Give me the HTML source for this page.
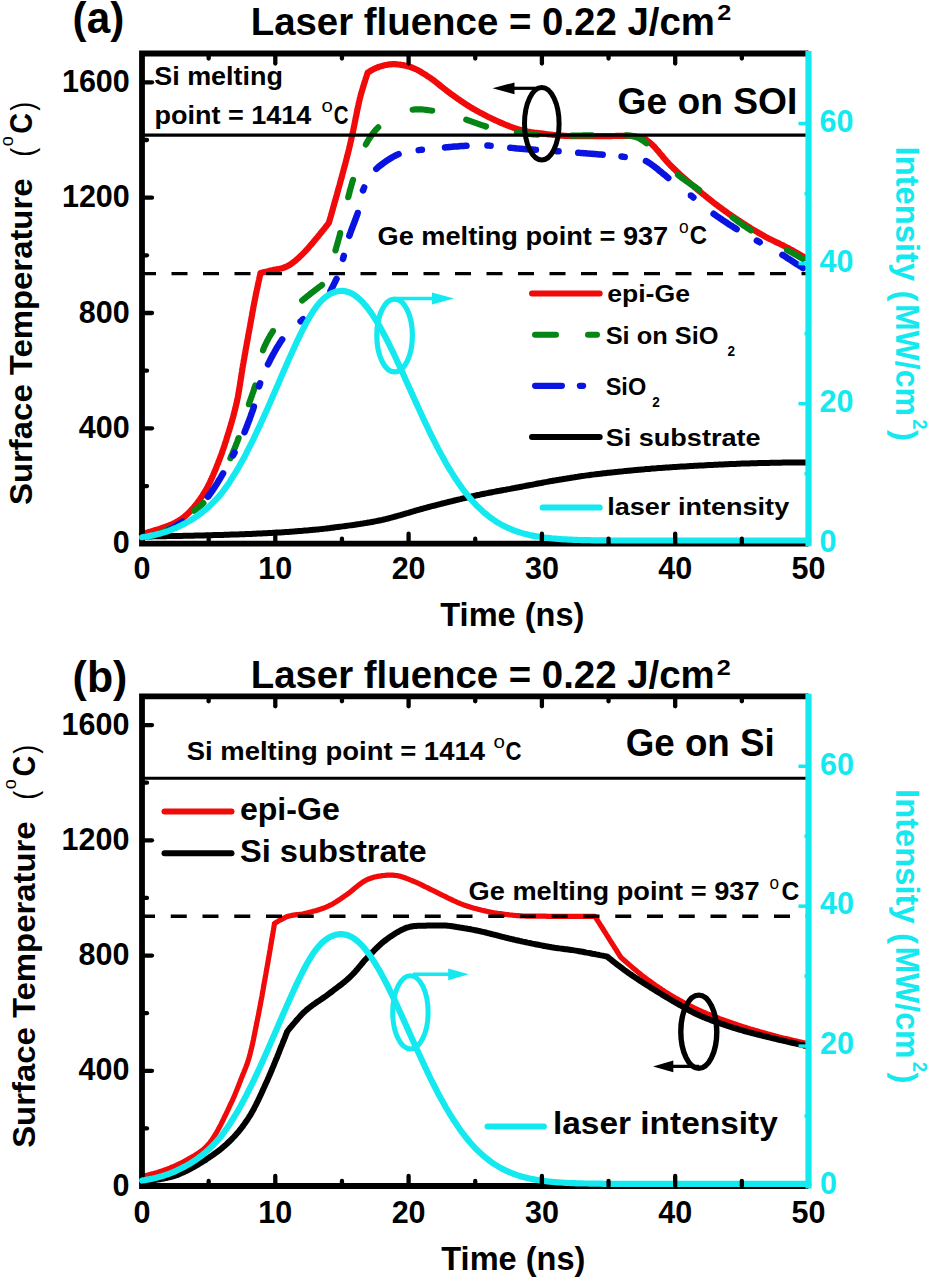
<!DOCTYPE html><html><head><meta charset="utf-8"><style>html,body{margin:0;padding:0;background:#fff;width:931px;height:1280px;overflow:hidden}svg{display:block}text{font-family:"Liberation Sans",sans-serif}</style></head><body>
<svg width="931" height="1280" viewBox="0 0 931 1280">
<rect width="931" height="1280" fill="#fff"/>
<path d="M142.0 534.0 L142.2 533.9 L142.7 533.8 L143.6 533.6 L144.7 533.3 L146.0 532.9 L147.5 532.5 L149.2 532.0 L151.0 531.5 L152.9 530.9 L154.8 530.3 L156.7 529.7 L158.6 529.2 L160.4 528.6 L162.1 528.0 L163.6 527.5 L165.0 527.0 L166.6 526.4 L168.1 525.8 L169.6 525.2 L171.0 524.6 L172.4 524.0 L173.8 523.3 L175.1 522.7 L176.4 522.0 L177.7 521.3 L179.0 520.5 L180.3 519.6 L181.6 518.8 L182.8 517.9 L184.0 517.0 L185.2 516.0 L186.4 515.0 L187.6 513.9 L188.8 512.7 L190.0 511.5 L190.9 510.5 L191.9 509.5 L192.8 508.4 L193.8 507.3 L194.8 506.1 L195.7 504.9 L196.7 503.7 L197.7 502.4 L198.6 501.1 L199.6 499.8 L200.5 498.5 L201.4 497.1 L202.4 495.7 L203.3 494.3 L204.1 492.9 L205.0 491.5 L205.7 490.3 L206.4 489.0 L207.2 487.7 L207.9 486.4 L208.5 485.0 L209.2 483.7 L209.9 482.3 L210.5 480.9 L211.2 479.5 L211.8 478.1 L212.5 476.6 L213.1 475.2 L213.7 473.7 L214.3 472.3 L215.0 470.8 L215.6 469.3 L216.2 467.9 L216.7 466.4 L217.3 464.9 L217.9 463.5 L218.5 462.0 L219.0 460.6 L219.6 459.2 L220.1 457.8 L220.6 456.4 L221.2 454.9 L221.7 453.5 L222.2 452.1 L222.7 450.6 L223.2 449.2 L223.7 447.7 L224.2 446.2 L224.7 444.8 L225.1 443.3 L225.6 441.9 L226.1 440.4 L226.5 438.9 L227.0 437.5 L227.4 436.1 L227.9 434.6 L228.3 433.2 L228.8 431.8 L229.2 430.4 L229.6 429.0 L230.1 427.5 L230.5 426.0 L230.9 424.5 L231.4 423.0 L231.8 421.6 L232.2 420.2 L232.6 418.7 L233.0 417.3 L233.4 415.9 L233.8 414.4 L234.1 413.0 L234.5 411.5 L234.9 410.1 L235.2 408.6 L235.6 407.1 L236.0 405.6 L236.3 404.1 L236.7 402.6 L237.0 401.0 L237.3 399.6 L237.6 398.2 L237.9 396.8 L238.1 395.4 L238.4 394.0 L238.6 392.5 L238.9 391.1 L239.1 389.6 L239.4 388.1 L239.6 386.6 L239.9 385.1 L240.1 383.7 L240.3 382.1 L240.6 380.6 L240.8 379.1 L241.0 377.6 L241.3 376.1 L241.5 374.6 L241.7 373.1 L242.0 371.5 L242.2 370.0 L242.4 368.5 L242.7 367.0 L242.9 365.5 L243.2 364.0 L243.5 362.5 L243.7 361.0 L244.0 359.5 L244.3 358.0 L244.5 356.4 L244.8 354.9 L245.1 353.3 L245.4 351.8 L245.6 350.2 L245.9 348.7 L246.2 347.1 L246.5 345.6 L246.7 344.0 L247.0 342.5 L247.3 340.9 L247.6 339.4 L247.9 337.9 L248.1 336.4 L248.4 334.9 L248.7 333.4 L248.9 332.0 L249.2 330.5 L249.5 329.1 L249.7 327.7 L250.0 326.3 L250.2 325.0 L250.5 323.3 L250.8 321.6 L251.1 320.0 L251.4 318.4 L251.7 316.8 L252.0 315.3 L252.2 313.7 L252.5 312.2 L252.8 310.7 L253.1 309.2 L253.3 307.7 L253.6 306.2 L253.9 304.7 L254.2 303.1 L254.5 301.6 L254.8 300.0 L255.1 298.4 L255.5 296.7 L255.8 294.9 L256.2 293.0 L256.6 291.1 L257.1 289.1 L257.5 287.1 L257.9 285.1 L258.3 283.2 L258.7 281.4 L259.1 279.6 L259.4 278.0 L259.7 276.6 L260.0 275.4 L260.2 274.4 L260.4 273.6 L260.5 273.2 L260.5 273.0 L260.9 272.9 L261.9 272.7 L263.4 272.3 L265.2 271.9 L267.2 271.4 L269.1 270.9 L270.9 270.5 L272.2 270.2 L273.7 269.9 L275.1 269.6 L276.6 269.4 L278.1 269.1 L279.6 268.8 L281.2 268.4 L282.7 268.0 L284.2 267.5 L285.7 267.0 L287.1 266.3 L288.4 265.6 L289.7 264.9 L290.9 264.1 L292.1 263.2 L293.3 262.3 L294.6 261.4 L295.8 260.4 L297.0 259.3 L298.2 258.2 L299.4 257.1 L300.6 255.9 L301.9 254.7 L303.2 253.4 L304.2 252.4 L305.2 251.4 L306.3 250.2 L307.5 248.9 L308.7 247.5 L309.9 246.1 L311.2 244.6 L312.5 243.1 L313.8 241.5 L315.1 239.9 L316.5 238.3 L317.8 236.8 L319.0 235.2 L320.3 233.7 L321.4 232.2 L322.6 230.8 L323.7 229.4 L324.7 228.2 L325.6 227.0 L326.4 226.0 L327.1 225.1 L327.7 224.3 L328.2 223.7 L328.6 223.2 L328.8 222.9 L328.9 222.8 L328.9 222.7 L329.0 222.4 L329.2 221.8 L329.4 221.1 L329.6 220.2 L329.9 219.2 L330.3 217.9 L330.7 216.6 L331.1 215.1 L331.5 213.6 L332.0 211.9 L332.5 210.1 L333.0 208.3 L333.5 206.4 L334.1 204.5 L334.6 202.5 L335.2 200.5 L335.8 198.5 L336.3 196.5 L336.9 194.6 L337.4 192.6 L337.9 190.8 L338.4 188.9 L338.9 187.2 L339.4 185.5 L339.8 184.0 L340.2 182.5 L340.6 180.9 L341.0 179.4 L341.5 177.9 L341.9 176.3 L342.3 174.8 L342.7 173.3 L343.1 171.8 L343.5 170.3 L343.9 168.8 L344.3 167.3 L344.7 165.9 L345.1 164.4 L345.5 163.0 L345.8 161.5 L346.2 160.1 L346.6 158.7 L346.9 157.3 L347.3 155.9 L347.6 154.6 L348.0 153.2 L348.3 151.9 L348.7 150.3 L349.1 148.7 L349.4 147.2 L349.8 145.8 L350.1 144.3 L350.4 142.9 L350.8 141.5 L351.1 140.0 L351.4 138.6 L351.7 137.1 L352.1 135.7 L352.4 134.1 L352.7 132.5 L353.1 130.9 L353.4 129.5 L353.7 128.1 L354.0 126.7 L354.3 125.2 L354.6 123.7 L354.9 122.2 L355.2 120.6 L355.5 119.0 L355.8 117.4 L356.2 115.9 L356.5 114.3 L356.8 112.6 L357.1 111.0 L357.4 109.4 L357.8 107.9 L358.1 106.3 L358.5 104.7 L358.8 103.2 L359.1 101.7 L359.5 100.2 L359.8 98.7 L360.2 97.3 L360.6 95.7 L361.1 93.9 L361.6 92.1 L362.2 90.2 L362.8 88.2 L363.4 86.3 L363.9 84.4 L364.5 82.5 L365.1 80.7 L365.6 79.0 L366.1 77.5 L366.6 76.1 L366.9 74.9 L367.3 74.0 L367.5 73.2 L367.6 72.8 L367.7 72.6 L368.0 72.4 L369.0 71.8 L370.3 71.0 L372.0 70.1 L373.8 69.1 L375.6 68.2 L377.3 67.5 L378.6 67.0 L380.0 66.6 L381.5 66.1 L383.0 65.7 L384.5 65.3 L386.0 65.0 L387.6 64.7 L389.2 64.4 L390.8 64.3 L392.4 64.2 L393.8 64.2 L395.3 64.2 L396.7 64.3 L398.2 64.5 L399.7 64.6 L401.3 64.9 L402.8 65.1 L404.3 65.4 L405.8 65.8 L407.3 66.2 L408.8 66.6 L410.3 67.0 L411.7 67.5 L413.1 68.0 L414.5 68.6 L415.8 69.2 L417.1 69.8 L418.4 70.5 L419.7 71.2 L421.0 72.0 L422.3 72.8 L423.6 73.6 L424.9 74.4 L426.2 75.2 L427.5 76.1 L428.9 77.0 L430.1 77.8 L431.2 78.6 L432.4 79.4 L433.6 80.3 L434.8 81.2 L435.9 82.1 L437.1 83.1 L438.3 84.0 L439.5 85.0 L440.7 86.0 L441.9 86.9 L443.1 87.9 L444.4 88.9 L445.6 89.8 L446.8 90.8 L448.0 91.7 L449.2 92.6 L450.4 93.5 L451.6 94.4 L452.9 95.3 L454.1 96.2 L455.3 97.0 L456.6 97.9 L457.8 98.8 L459.0 99.6 L460.2 100.5 L461.5 101.3 L462.7 102.2 L464.0 103.0 L465.2 103.9 L466.5 104.7 L467.8 105.5 L469.2 106.4 L470.5 107.2 L471.9 108.0 L473.1 108.7 L474.4 109.4 L475.7 110.2 L477.0 110.9 L478.3 111.6 L479.7 112.4 L481.0 113.1 L482.4 113.8 L483.8 114.6 L485.2 115.3 L486.6 116.0 L488.0 116.7 L489.4 117.4 L490.8 118.1 L492.2 118.8 L493.6 119.4 L494.9 120.1 L496.3 120.7 L497.6 121.3 L498.9 121.9 L500.2 122.5 L501.5 123.0 L503.0 123.6 L504.5 124.3 L506.0 124.9 L507.4 125.5 L508.9 126.0 L510.3 126.6 L511.7 127.1 L513.1 127.6 L514.5 128.1 L515.9 128.6 L517.3 129.0 L518.7 129.4 L520.1 129.8 L521.6 130.2 L523.0 130.6 L524.5 131.0 L526.0 131.3 L527.6 131.6 L529.1 131.8 L530.6 132.1 L532.1 132.3 L533.7 132.5 L535.2 132.7 L536.7 132.9 L538.3 133.1 L539.8 133.3 L541.3 133.4 L542.9 133.6 L544.4 133.8 L545.9 134.0 L547.4 134.2 L548.9 134.4 L550.4 134.5 L551.9 134.7 L553.3 134.9 L554.8 135.0 L556.3 135.2 L557.8 135.3 L559.4 135.5 L561.0 135.6 L562.6 135.7 L564.2 135.8 L565.9 135.9 L567.3 136.0 L568.7 136.0 L570.2 136.1 L571.6 136.1 L573.2 136.2 L574.7 136.2 L576.2 136.2 L577.8 136.2 L579.4 136.2 L581.0 136.2 L582.6 136.2 L584.2 136.2 L585.8 136.2 L587.4 136.2 L589.0 136.2 L590.6 136.2 L592.2 136.2 L593.8 136.2 L595.4 136.2 L596.9 136.2 L598.5 136.2 L600.0 136.2 L601.6 136.2 L603.2 136.2 L604.8 136.2 L606.4 136.1 L608.0 136.1 L609.7 136.1 L611.3 136.1 L612.9 136.0 L614.5 136.0 L616.1 135.9 L617.7 135.9 L619.3 135.9 L620.8 135.9 L622.3 135.9 L623.8 135.9 L625.2 135.9 L626.6 135.9 L627.9 135.9 L629.2 135.9 L630.4 136.0 L632.4 136.1 L634.5 136.3 L636.6 136.6 L638.6 136.8 L640.4 137.0 L641.8 137.2 L642.7 137.4 L643.0 137.4 L643.3 137.6 L644.2 138.2 L645.5 139.2 L647.0 140.4 L648.7 141.7 L650.4 143.1 L652.0 144.5 L652.9 145.4 L653.8 146.3 L654.8 147.3 L655.7 148.4 L656.7 149.6 L657.7 150.7 L658.8 151.9 L659.8 153.2 L660.9 154.5 L662.0 155.7 L663.0 157.0 L664.1 158.3 L665.2 159.6 L666.4 160.9 L667.5 162.2 L668.6 163.4 L669.8 164.6 L670.9 165.8 L671.9 166.8 L673.0 167.9 L674.1 168.9 L675.2 169.9 L676.2 171.0 L677.4 172.0 L678.5 173.0 L679.6 174.1 L680.7 175.1 L681.9 176.1 L683.0 177.1 L684.2 178.1 L685.3 179.1 L686.5 180.1 L687.6 181.1 L688.8 182.1 L689.9 183.1 L691.1 184.1 L692.2 185.1 L693.4 186.0 L694.5 187.0 L695.7 188.0 L696.8 189.0 L698.0 190.0 L699.2 190.9 L700.3 191.9 L701.5 192.9 L702.7 193.9 L703.9 194.8 L705.0 195.8 L706.2 196.7 L707.4 197.7 L708.6 198.6 L709.8 199.6 L711.0 200.5 L712.1 201.4 L713.3 202.4 L714.5 203.3 L715.7 204.2 L716.9 205.1 L718.1 206.0 L719.3 206.9 L720.6 207.8 L721.8 208.7 L723.0 209.6 L724.3 210.5 L725.5 211.4 L726.8 212.3 L728.0 213.2 L729.3 214.1 L730.5 214.9 L731.8 215.8 L733.0 216.7 L734.3 217.5 L735.5 218.4 L736.8 219.2 L738.0 220.0 L739.3 220.9 L740.5 221.7 L741.8 222.5 L743.1 223.3 L744.4 224.2 L745.7 225.0 L747.0 225.8 L748.3 226.6 L749.6 227.5 L750.9 228.3 L752.2 229.1 L753.5 229.9 L754.9 230.6 L756.2 231.4 L757.5 232.2 L758.8 233.0 L760.1 233.7 L761.4 234.5 L762.8 235.2 L764.1 236.0 L765.4 236.7 L766.8 237.4 L768.2 238.2 L769.6 238.9 L771.0 239.6 L772.4 240.3 L773.9 241.0 L775.3 241.7 L776.7 242.4 L778.2 243.1 L779.6 243.8 L781.0 244.5 L782.4 245.1 L783.7 245.8 L785.1 246.5 L786.4 247.2 L787.7 247.8 L789.0 248.5 L790.6 249.4 L792.3 250.3 L794.2 251.4 L796.0 252.4 L797.8 253.5 L799.6 254.5 L801.2 255.4 L802.6 256.3 L803.9 257.0 L804.8 257.5 L805.4 257.9 L805.6 258.0" fill="none" stroke="#F00A0A" stroke-width="6.20" stroke-linejoin="round" stroke-linecap="round"/>
<path d="M153.6 535.5 L154.3 535.2 L156.3 534.6 L158.2 533.9 L160.0 533.2 L161.8 532.5 L163.5 531.7 L165.0 531.0 L166.3 530.3 L167.6 529.6 L168.9 528.9 L168.9 528.9" fill="none" stroke="#058515" stroke-width="6.20" stroke-linecap="round" stroke-linejoin="round"/>
<path d="M194.1 510.7 L194.3 510.6 L195.5 509.7 L196.7 508.7 L197.9 507.8 L199.1 506.9 L200.2 506.0 L201.3 505.1 L202.4 504.1 L203.4 503.1" fill="none" stroke="#058515" stroke-width="6.20" stroke-linecap="round" stroke-linejoin="round"/>
<path d="M230.4 458.2 L231.0 456.9 L231.6 455.5 L232.2 454.1 L232.8 452.6 L233.4 451.2 L234.0 449.8 L234.6 448.4 L235.2 446.9 L235.8 445.5 L236.3 444.0 L236.9 442.6 L237.5 441.1 L238.0 439.6 L238.5 438.1 L238.6 438.1" fill="none" stroke="#058515" stroke-width="6.20" stroke-linecap="round" stroke-linejoin="round"/>
<path d="M248.9 404.2 L248.9 404.1 L249.4 402.7 L249.9 401.2 L250.4 399.8 L250.9 398.4 L251.4 397.0 L251.9 395.6 L252.4 394.1 L252.9 392.7 L253.4 391.3 L253.9 389.9 L254.3 388.4 L254.8 387.0 L255.3 385.5 L255.3 385.5" fill="none" stroke="#058515" stroke-width="6.20" stroke-linecap="round" stroke-linejoin="round"/>
<path d="M263.0 350.3 L263.0 350.3 L263.5 348.9 L264.1 347.4 L264.7 346.0 L265.4 344.6 L266.0 343.3 L266.7 341.9 L267.4 340.5 L268.1 339.2 L268.8 337.8 L269.6 336.5 L270.4 335.1 L271.2 333.8 L272.1 332.5 L273.0 331.1 L273.0 331.0" fill="none" stroke="#058515" stroke-width="6.20" stroke-linecap="round" stroke-linejoin="round"/>
<path d="M302.2 300.5 L302.5 300.2 L303.9 299.0 L305.4 297.8 L307.0 296.5 L308.6 295.3 L310.2 294.0 L311.8 292.7 L313.4 291.5 L315.0 290.3 L316.6 289.1 L318.0 288.0 L319.4 286.9 L320.7 286.0 L321.9 285.1 L322.0 285.0" fill="none" stroke="#058515" stroke-width="6.20" stroke-linecap="round" stroke-linejoin="round"/>
<path d="M335.5 250.4 L335.5 250.4 L335.9 248.9 L336.3 247.5 L336.7 246.0 L337.1 244.6 L337.5 243.2 L337.9 241.7 L338.3 240.3 L338.7 238.9 L339.1 237.5 L339.5 236.0 L339.9 234.5 L340.2 233.1 L340.2 233.0" fill="none" stroke="#058515" stroke-width="6.20" stroke-linecap="round" stroke-linejoin="round"/>
<path d="M348.2 197.2 L348.3 197.2 L348.6 195.7 L349.0 194.2 L349.4 192.8 L349.7 191.4 L350.1 189.9 L350.5 188.5 L350.9 187.1 L351.3 185.7 L351.7 184.3 L352.1 182.8 L352.5 181.4 L353.0 179.9 L353.0 179.9" fill="none" stroke="#058515" stroke-width="6.20" stroke-linecap="round" stroke-linejoin="round"/>
<path d="M365.9 144.4 L366.6 143.1 L367.4 141.7 L368.2 140.4 L368.9 139.1 L369.8 137.9 L370.6 136.6 L371.5 135.4 L372.3 134.2 L373.2 133.0 L374.2 131.8 L375.1 130.6 L376.1 129.5 L377.2 128.4 L378.2 127.4" fill="none" stroke="#058515" stroke-width="6.20" stroke-linecap="round" stroke-linejoin="round"/>
<path d="M412.7 109.7 L414.1 109.5 L415.6 109.4 L417.1 109.3 L418.6 109.3 L420.2 109.4 L421.7 109.4 L423.2 109.5 L424.7 109.7 L426.2 109.9 L427.7 110.1 L429.2 110.3 L430.7 110.5 L432.2 110.7" fill="none" stroke="#058515" stroke-width="6.20" stroke-linecap="round" stroke-linejoin="round"/>
<path d="M466.3 119.6 L467.6 120.1 L469.0 120.6 L470.5 121.1 L471.9 121.6 L473.3 122.1 L474.7 122.6 L476.1 123.1 L477.5 123.6 L478.9 124.1 L480.3 124.6 L481.7 125.1 L483.1 125.6 L484.6 126.0 L486.0 126.5" fill="none" stroke="#058515" stroke-width="6.20" stroke-linecap="round" stroke-linejoin="round"/>
<path d="M516.9 132.6 L516.9 132.6 L518.4 132.8 L520.0 133.0 L521.4 133.2 L522.9 133.3 L524.3 133.5 L525.8 133.6 L527.2 133.8 L528.7 133.9 L530.1 134.0 L531.6 134.2 L533.1 134.3 L534.6 134.4 L536.1 134.5 L537.5 134.6" fill="none" stroke="#058515" stroke-width="6.20" stroke-linecap="round" stroke-linejoin="round"/>
<path d="M571.8 135.6 L571.8 135.6 L573.4 135.6 L575.0 135.6 L576.7 135.5 L578.3 135.5 L580.0 135.5 L581.7 135.5 L583.4 135.4 L585.1 135.4 L586.8 135.4 L588.5 135.3 L590.2 135.3 L591.9 135.3 L592.1 135.3" fill="none" stroke="#058515" stroke-width="6.20" stroke-linecap="round" stroke-linejoin="round"/>
<path d="M626.1 135.4 L627.0 135.4 L628.6 135.5 L630.2 135.7 L631.6 135.9 L633.1 136.1 L634.5 136.5 L636.0 137.0 L637.3 137.5 L638.6 138.1 L639.9 138.8 L641.1 139.5 L642.3 140.2 L643.6 141.1 L644.8 142.0 L646.1 143.0 L646.5 143.3" fill="none" stroke="#058515" stroke-width="6.20" stroke-linecap="round" stroke-linejoin="round"/>
<path d="M678.0 174.9 L678.0 174.9 L679.2 175.9 L680.5 176.8 L681.7 177.8 L682.9 178.7 L684.1 179.5 L685.4 180.4 L686.6 181.3 L687.9 182.1 L689.1 183.0 L690.3 183.8 L691.6 184.7 L692.8 185.5 L694.1 186.4 L695.3 187.2 L696.6 188.1 L697.8 189.0 L699.1 189.9 L699.1 189.9" fill="none" stroke="#058515" stroke-width="6.20" stroke-linecap="round" stroke-linejoin="round"/>
<path d="M732.5 217.3 L732.5 217.3 L733.8 218.3 L735.0 219.2 L736.2 220.1 L737.4 221.0 L738.6 221.9 L739.8 222.7 L741.0 223.6 L742.2 224.5 L743.4 225.3 L744.7 226.2 L745.9 227.0 L747.1 227.8 L748.4 228.7 L749.7 229.5 L750.9 230.3 L751.0 230.4" fill="none" stroke="#058515" stroke-width="6.20" stroke-linecap="round" stroke-linejoin="round"/>
<path d="M787.0 250.0 L787.4 250.2 L789.1 251.2 L790.9 252.1 L792.7 253.1 L794.5 254.1 L796.2 255.1 L797.9 256.0 L799.4 256.9 L800.9 257.7 L802.2 258.4 L802.9 258.8" fill="none" stroke="#058515" stroke-width="6.20" stroke-linecap="round" stroke-linejoin="round"/>
<path d="M167.9 530.5 L169.0 530.0 L170.4 529.2 L171.7 528.5 L173.1 527.7 L174.5 526.9 L175.8 526.1 L177.2 525.3 L178.5 524.4 L179.8 523.5 L181.2 522.7 L182.4 521.8" fill="none" stroke="#0A14E0" stroke-width="6.50" stroke-linecap="round" stroke-linejoin="round"/>
<path d="M207.9 496.8 L208.0 496.7 L209.0 495.4 L210.0 494.0 L210.8 492.9 L211.6 491.8 L212.4 490.6 L213.2 489.4 L214.0 488.2 L214.9 486.9 L215.7 485.6 L216.5 484.3 L217.4 483.0 L218.2 481.6 L219.0 480.2 L219.9 478.9 L220.7 477.5 L221.5 476.1 L222.3 474.7 L223.1 473.3" fill="none" stroke="#0A14E0" stroke-width="6.50" stroke-linecap="round" stroke-linejoin="round"/>
<path d="M233.0 455.4 L233.2 455.1 L233.8 454.0 L234.6 452.6" fill="none" stroke="#0A14E0" stroke-width="6.50" stroke-linecap="round" stroke-linejoin="round"/>
<path d="M244.5 432.2 L244.9 431.3 L245.4 429.9 L246.0 428.5 L246.6 427.0 L247.2 425.5 L247.7 424.0 L248.3 422.5 L248.9 421.0 L249.5 419.5 L250.0 417.9 L250.6 416.4 L251.1 414.9 L251.6 413.4 L252.2 411.9 L252.7 410.4 L253.2 409.0 L253.6 407.6 L253.9 406.7" fill="none" stroke="#0A14E0" stroke-width="6.50" stroke-linecap="round" stroke-linejoin="round"/>
<path d="M259.1 386.3 L259.1 386.3 L259.6 384.8 L260.1 383.3 L260.1 383.3" fill="none" stroke="#0A14E0" stroke-width="6.50" stroke-linecap="round" stroke-linejoin="round"/>
<path d="M268.0 364.3 L268.4 363.5 L269.1 362.2 L269.7 360.9 L270.4 359.5 L271.1 358.1 L271.9 356.7 L272.6 355.3 L273.4 353.9 L274.2 352.5 L275.0 351.0 L275.8 349.6 L276.6 348.2 L277.4 346.8 L278.3 345.4 L279.1 344.1 L279.9 342.8 L280.8 341.5 L281.6 340.3 L282.2 339.4" fill="none" stroke="#0A14E0" stroke-width="6.50" stroke-linecap="round" stroke-linejoin="round"/>
<path d="M300.6 321.4 L301.8 320.3 L302.8 319.3 L303.0 319.2" fill="none" stroke="#0A14E0" stroke-width="6.50" stroke-linecap="round" stroke-linejoin="round"/>
<path d="M330.5 290.8 L331.2 289.5 L332.0 287.9 L332.9 286.2 L333.8 284.4 L334.7 282.6 L335.6 280.8 L336.4 279.0 L336.5 278.9" fill="none" stroke="#0A14E0" stroke-width="6.50" stroke-linecap="round" stroke-linejoin="round"/>
<path d="M343.0 258.9 L343.4 257.4 L343.8 255.9 L343.8 255.9" fill="none" stroke="#0A14E0" stroke-width="6.50" stroke-linecap="round" stroke-linejoin="round"/>
<path d="M349.3 235.8 L349.7 234.8 L350.2 233.4 L350.7 232.0 L351.2 230.5 L351.8 229.0 L352.4 227.5 L352.9 226.0 L353.5 224.5 L354.1 223.0 L354.7 221.5 L355.2 220.0 L355.8 218.5 L356.3 217.0 L356.9 215.5 L357.4 214.1 L357.7 213.0" fill="none" stroke="#0A14E0" stroke-width="6.50" stroke-linecap="round" stroke-linejoin="round"/>
<path d="M363.0 190.4 L363.1 190.3 L363.6 188.9 L364.2 187.4 L364.2 187.4" fill="none" stroke="#0A14E0" stroke-width="6.50" stroke-linecap="round" stroke-linejoin="round"/>
<path d="M376.3 168.9 L377.1 168.2 L378.3 167.1 L379.5 166.1 L380.8 165.1 L382.1 164.1 L383.4 163.1 L384.8 162.1 L386.2 161.1 L387.6 160.2 L389.0 159.3 L390.4 158.4 L391.8 157.6 L393.2 156.8 L394.6 156.0 L396.0 155.3 L397.4 154.7 L398.6 154.1" fill="none" stroke="#0A14E0" stroke-width="6.50" stroke-linecap="round" stroke-linejoin="round"/>
<path d="M418.7 150.1 L418.7 150.1 L420.3 149.9 L421.8 149.7 L421.9 149.7" fill="none" stroke="#0A14E0" stroke-width="6.50" stroke-linecap="round" stroke-linejoin="round"/>
<path d="M445.0 147.4 L446.3 147.3 L447.9 147.2 L449.4 147.0 L451.0 146.9 L452.6 146.7 L454.2 146.6 L455.8 146.5 L457.4 146.4 L459.1 146.2 L460.6 146.1 L462.2 146.0 L463.8 145.9 L465.3 145.8 L466.5 145.7" fill="none" stroke="#0A14E0" stroke-width="6.50" stroke-linecap="round" stroke-linejoin="round"/>
<path d="M487.4 145.5 L489.0 145.6 L490.4 145.7 L490.6 145.7" fill="none" stroke="#0A14E0" stroke-width="6.50" stroke-linecap="round" stroke-linejoin="round"/>
<path d="M510.3 147.7 L511.9 147.9 L513.5 148.1 L515.1 148.2 L516.8 148.4 L518.4 148.6 L520.0 148.7 L521.5 148.8 L523.0 148.9 L524.6 149.1 L526.1 149.2 L527.7 149.3 L529.3 149.4 L530.9 149.5 L532.6 149.6 L534.2 149.7 L535.8 149.8 L535.9 149.8" fill="none" stroke="#0A14E0" stroke-width="6.50" stroke-linecap="round" stroke-linejoin="round"/>
<path d="M555.4 151.1 L555.7 151.1 L557.0 151.2 L558.6 151.3" fill="none" stroke="#0A14E0" stroke-width="6.50" stroke-linecap="round" stroke-linejoin="round"/>
<path d="M578.2 152.7 L579.3 152.8 L580.8 152.9 L582.4 153.1 L583.9 153.2 L585.6 153.3 L587.2 153.4 L588.8 153.6 L590.5 153.7 L592.1 153.8 L593.8 154.0 L595.4 154.1 L597.0 154.2 L598.6 154.4 L600.2 154.5 L601.7 154.6 L602.7 154.7" fill="none" stroke="#0A14E0" stroke-width="6.50" stroke-linecap="round" stroke-linejoin="round"/>
<path d="M621.5 156.5 L623.1 156.7 L624.6 156.9 L624.7 156.9" fill="none" stroke="#0A14E0" stroke-width="6.50" stroke-linecap="round" stroke-linejoin="round"/>
<path d="M645.9 161.0 L646.6 161.3 L647.8 162.1 L649.0 162.8 L650.2 163.6 L651.5 164.5 L652.7 165.4 L654.0 166.3 L655.2 167.3 L656.4 168.2 L657.7 169.2 L658.9 170.3 L660.2 171.3 L661.4 172.3 L662.6 173.3 L663.9 174.3 L665.1 175.3 L666.3 176.3 L667.4 177.3 L668.3 178.0" fill="none" stroke="#0A14E0" stroke-width="6.50" stroke-linecap="round" stroke-linejoin="round"/>
<path d="M690.9 195.5 L691.0 195.5 L692.2 196.5 L693.4 197.5 L693.4 197.5" fill="none" stroke="#0A14E0" stroke-width="6.50" stroke-linecap="round" stroke-linejoin="round"/>
<path d="M713.6 213.8 L714.6 214.5 L715.8 215.4 L717.1 216.3 L718.4 217.2 L719.7 218.1 L721.1 219.0 L722.4 219.9 L723.8 220.8 L725.1 221.7 L726.5 222.6 L727.8 223.5 L729.2 224.4 L730.5 225.2 L731.9 226.1 L733.2 226.9 L734.5 227.7 L735.7 228.5 L736.6 229.1" fill="none" stroke="#0A14E0" stroke-width="6.50" stroke-linecap="round" stroke-linejoin="round"/>
<path d="M756.9 240.6 L756.9 240.6 L758.3 241.4 L759.6 242.1 L759.7 242.2" fill="none" stroke="#0A14E0" stroke-width="6.50" stroke-linecap="round" stroke-linejoin="round"/>
<path d="M782.4 254.9 L783.9 255.8 L785.5 256.8 L787.2 257.9 L788.9 259.0 L790.6 260.1 L792.3 261.2 L794.0 262.3 L795.7 263.4 L797.3 264.4 L798.8 265.4 L800.3 266.3 L801.6 267.1 L802.7 267.9 L802.9 268.0" fill="none" stroke="#0A14E0" stroke-width="6.50" stroke-linecap="round" stroke-linejoin="round"/>
<path d="M142.0 536.5 L142.1 536.5 L142.3 536.5 L142.7 536.5 L143.2 536.5 L143.9 536.5 L144.7 536.5 L145.6 536.5 L146.6 536.4 L147.7 536.4 L149.0 536.4 L150.3 536.4 L151.7 536.4 L153.2 536.3 L154.8 536.3 L156.5 536.3 L158.2 536.3 L160.0 536.2 L161.8 536.2 L163.7 536.2 L165.6 536.2 L167.6 536.1 L169.6 536.1 L171.6 536.1 L173.6 536.0 L175.6 536.0 L177.7 536.0 L179.7 535.9 L181.7 535.9 L183.7 535.8 L185.7 535.8 L187.7 535.8 L189.6 535.7 L191.4 535.7 L193.3 535.7 L195.1 535.6 L196.8 535.6 L198.4 535.5 L200.0 535.5 L201.5 535.5 L203.0 535.4 L204.5 535.4 L206.0 535.3 L207.5 535.3 L209.1 535.3 L210.6 535.2 L212.1 535.2 L213.7 535.1 L215.2 535.1 L216.8 535.1 L218.3 535.0 L219.9 535.0 L221.4 534.9 L223.0 534.9 L224.5 534.8 L226.1 534.8 L227.6 534.7 L229.2 534.7 L230.7 534.6 L232.2 534.6 L233.8 534.5 L235.3 534.5 L236.8 534.4 L238.3 534.4 L239.9 534.3 L241.4 534.3 L242.9 534.2 L244.4 534.2 L245.8 534.1 L247.3 534.0 L248.8 534.0 L250.2 533.9 L251.6 533.9 L253.1 533.8 L254.5 533.8 L255.9 533.7 L257.3 533.6 L258.6 533.6 L260.0 533.5 L261.7 533.4 L263.4 533.3 L265.0 533.3 L266.7 533.2 L268.3 533.1 L269.9 533.0 L271.5 532.9 L273.1 532.8 L274.7 532.7 L276.2 532.6 L277.8 532.6 L279.3 532.5 L280.9 532.4 L282.4 532.3 L283.9 532.2 L285.4 532.1 L286.9 532.0 L288.4 531.9 L289.9 531.8 L291.3 531.7 L292.8 531.6 L294.2 531.4 L295.7 531.3 L297.1 531.2 L298.6 531.1 L300.0 531.0 L301.6 530.9 L303.1 530.7 L304.7 530.6 L306.2 530.5 L307.6 530.4 L309.1 530.2 L310.5 530.1 L312.0 530.0 L313.4 529.8 L314.8 529.7 L316.2 529.6 L317.7 529.4 L319.1 529.3 L320.6 529.1 L322.1 528.9 L323.6 528.8 L325.1 528.6 L326.7 528.4 L328.3 528.2 L330.0 528.0 L331.3 527.8 L332.7 527.7 L334.0 527.5 L335.4 527.3 L336.8 527.1 L338.3 527.0 L339.7 526.8 L341.1 526.6 L342.6 526.4 L344.1 526.2 L345.6 526.0 L347.1 525.8 L348.6 525.6 L350.1 525.4 L351.7 525.2 L353.2 525.0 L354.8 524.8 L356.3 524.5 L357.9 524.3 L359.4 524.1 L361.0 523.8 L362.5 523.6 L364.1 523.3 L365.6 523.1 L367.2 522.8 L368.7 522.5 L370.3 522.3 L371.8 522.0 L373.4 521.7 L374.9 521.4 L376.4 521.1 L377.9 520.8 L379.4 520.5 L380.9 520.2 L382.3 519.9 L383.8 519.5 L385.2 519.2 L386.7 518.8 L388.2 518.5 L389.6 518.1 L391.1 517.7 L392.5 517.3 L394.0 516.9 L395.4 516.5 L396.9 516.1 L398.3 515.7 L399.8 515.3 L401.2 514.9 L402.7 514.5 L404.1 514.0 L405.6 513.6 L407.0 513.2 L408.5 512.8 L409.9 512.3 L411.4 511.9 L412.8 511.5 L414.3 511.0 L415.7 510.6 L417.2 510.2 L418.6 509.8 L420.1 509.4 L421.5 509.0 L423.0 508.6 L424.4 508.2 L425.9 507.8 L427.3 507.4 L428.8 507.0 L430.3 506.6 L431.8 506.2 L433.3 505.8 L434.8 505.5 L436.3 505.1 L437.8 504.7 L439.3 504.3 L440.8 503.9 L442.4 503.5 L443.9 503.1 L445.4 502.8 L446.9 502.4 L448.4 502.0 L449.9 501.6 L451.5 501.3 L453.0 500.9 L454.5 500.5 L456.0 500.1 L457.5 499.8 L459.0 499.4 L460.5 499.1 L462.0 498.7 L463.5 498.3 L465.0 498.0 L466.5 497.6 L468.0 497.3 L469.5 497.0 L470.9 496.6 L472.4 496.3 L473.9 496.0 L475.3 495.6 L476.8 495.3 L478.2 495.0 L479.7 494.7 L481.3 494.3 L482.8 494.0 L484.4 493.7 L485.9 493.4 L487.5 493.1 L489.0 492.8 L490.5 492.5 L492.0 492.2 L493.6 491.9 L495.1 491.6 L496.6 491.3 L498.1 491.0 L499.6 490.8 L501.1 490.5 L502.6 490.2 L504.1 489.9 L505.6 489.7 L507.0 489.4 L508.5 489.1 L510.0 488.9 L511.4 488.6 L512.9 488.3 L514.3 488.1 L515.7 487.8 L517.2 487.5 L518.6 487.3 L520.0 487.0 L521.6 486.7 L523.1 486.4 L524.7 486.1 L526.2 485.8 L527.7 485.5 L529.2 485.2 L530.7 484.9 L532.2 484.7 L533.7 484.4 L535.2 484.1 L536.6 483.8 L538.1 483.5 L539.6 483.2 L541.0 483.0 L542.5 482.7 L544.0 482.4 L545.4 482.1 L546.9 481.9 L548.4 481.6 L549.9 481.3 L551.5 481.1 L553.0 480.8 L554.5 480.5 L556.0 480.3 L557.5 480.0 L559.0 479.8 L560.6 479.5 L562.1 479.3 L563.6 479.0 L565.2 478.7 L566.7 478.5 L568.3 478.2 L569.8 478.0 L571.4 477.7 L572.9 477.5 L574.5 477.3 L576.1 477.0 L577.6 476.8 L579.2 476.5 L580.7 476.3 L582.3 476.1 L583.8 475.9 L585.4 475.6 L586.9 475.4 L588.5 475.2 L590.0 475.0 L591.5 474.8 L593.0 474.6 L594.5 474.4 L596.0 474.2 L597.5 474.0 L599.1 473.9 L600.6 473.7 L602.1 473.5 L603.6 473.3 L605.1 473.2 L606.6 473.0 L608.1 472.8 L609.6 472.7 L611.1 472.5 L612.6 472.4 L614.1 472.2 L615.6 472.0 L617.1 471.9 L618.6 471.7 L620.1 471.6 L621.5 471.4 L623.0 471.3 L624.5 471.1 L626.0 471.0 L627.6 470.8 L629.1 470.7 L630.7 470.5 L632.2 470.4 L633.7 470.2 L635.3 470.1 L636.8 470.0 L638.3 469.8 L639.9 469.7 L641.4 469.5 L642.9 469.4 L644.4 469.3 L646.0 469.1 L647.5 469.0 L649.0 468.9 L650.6 468.7 L652.1 468.6 L653.7 468.5 L655.3 468.4 L656.8 468.2 L658.4 468.1 L660.0 468.0 L661.5 467.9 L662.9 467.8 L664.4 467.7 L665.8 467.6 L667.3 467.5 L668.8 467.4 L670.3 467.3 L671.8 467.2 L673.3 467.1 L674.8 467.0 L676.3 466.9 L677.8 466.8 L679.3 466.7 L680.8 466.6 L682.3 466.5 L683.8 466.4 L685.3 466.4 L686.8 466.3 L688.4 466.2 L689.9 466.1 L691.4 466.0 L692.9 465.9 L694.4 465.8 L696.0 465.8 L697.5 465.7 L699.0 465.6 L700.5 465.5 L702.0 465.4 L703.5 465.4 L705.1 465.3 L706.6 465.2 L708.1 465.1 L709.7 465.0 L711.2 465.0 L712.8 464.9 L714.3 464.8 L715.9 464.7 L717.4 464.7 L719.0 464.6 L720.5 464.5 L722.1 464.4 L723.6 464.4 L725.1 464.3 L726.7 464.2 L728.2 464.2 L729.7 464.1 L731.2 464.0 L732.7 464.0 L734.2 463.9 L735.7 463.9 L737.1 463.8 L738.6 463.8 L740.0 463.7 L741.6 463.6 L743.2 463.6 L744.8 463.5 L746.3 463.5 L747.9 463.4 L749.4 463.4 L750.9 463.3 L752.4 463.3 L753.9 463.2 L755.4 463.2 L756.9 463.2 L758.4 463.1 L759.9 463.1 L761.4 463.0 L762.9 463.0 L764.4 463.0 L765.9 462.9 L767.4 462.9 L768.9 462.9 L770.5 462.8 L772.0 462.8 L773.6 462.8 L775.3 462.7 L777.1 462.7 L779.0 462.7 L781.0 462.7 L783.0 462.6 L785.1 462.6 L787.1 462.6 L789.2 462.6 L791.2 462.5 L793.2 462.5 L795.1 462.5 L796.9 462.5 L798.6 462.5 L800.2 462.4 L801.6 462.4 L802.9 462.4 L803.9 462.4 L804.8 462.4 L805.5 462.4 L805.9 462.4 L806.0 462.4" fill="none" stroke="#000" stroke-width="6.00" stroke-linejoin="round" stroke-linecap="round"/>
<line x1="142.00" y1="135.20" x2="808.50" y2="135.20" stroke="#000" stroke-width="3.20" stroke-linecap="butt"/>
<line x1="142.00" y1="273.60" x2="808.50" y2="273.60" stroke="#000" stroke-width="3.4" stroke-dasharray="16 15.5" stroke-dashoffset="2"/>
<path d="M808.50 53.50 L142.00 53.50 L142.00 543.70 L808.50 543.70" fill="none" stroke="#000" stroke-width="5.8" stroke-linejoin="miter"/>
<line x1="808.50" y1="50.90" x2="808.50" y2="546.30" stroke="#13E9EF" stroke-width="6.20" stroke-linecap="butt"/>
<path d="M142.0 537.2 L144.7 536.8 L147.3 536.4 L150.0 535.9 L152.7 535.4 L155.3 534.8 L158.0 534.1 L160.7 533.4 L163.3 532.6 L166.0 531.8 L168.7 530.9 L171.3 529.8 L174.0 528.7 L176.7 527.6 L179.3 526.3 L182.0 524.9 L184.7 523.6 L187.3 522.1 L190.0 520.6 L192.7 519.0 L195.3 517.3 L198.0 515.4 L200.7 513.4 L203.3 511.4 L206.0 509.1 L208.7 506.8 L211.3 504.3 L214.0 501.6 L216.6 498.8 L219.3 495.9 L222.0 492.7 L224.6 489.1 L227.3 485.4 L230.0 481.4 L232.6 477.2 L235.3 472.9 L238.0 468.4 L240.6 463.7 L243.3 458.9 L246.0 453.9 L248.6 448.7 L251.3 443.4 L254.0 437.9 L256.6 432.3 L259.3 426.6 L262.0 420.8 L264.6 414.9 L267.3 408.9 L270.0 402.8 L272.6 396.7 L275.3 390.6 L278.0 384.4 L280.6 378.2 L283.3 372.1 L286.0 366.0 L288.6 359.9 L291.3 353.9 L294.0 348.0 L296.6 342.2 L299.3 336.6 L302.0 331.2 L304.6 326.0 L307.3 321.0 L310.0 316.4 L312.6 312.1 L315.3 308.2 L318.0 304.7 L320.6 301.6 L323.3 298.9 L326.0 296.7 L328.6 294.9 L331.3 293.4 L334.0 292.3 L336.6 291.5 L339.3 291.0 L341.9 290.9 L344.6 291.1 L347.3 291.7 L349.9 292.6 L352.6 293.9 L355.3 295.7 L357.9 297.7 L360.6 300.1 L363.3 302.9 L365.9 306.0 L368.6 309.4 L371.3 313.1 L373.9 317.1 L376.6 321.3 L379.3 325.8 L381.9 330.6 L384.6 335.5 L387.3 340.6 L389.9 346.0 L392.6 351.4 L395.3 357.0 L397.9 362.7 L400.6 368.5 L403.3 374.3 L405.9 380.2 L408.6 386.2 L411.3 392.1 L413.9 398.0 L416.6 403.9 L419.3 409.8 L421.9 415.6 L424.6 421.3 L427.3 426.9 L429.9 432.5 L432.6 437.9 L435.3 443.2 L437.9 448.4 L440.6 453.4 L443.3 458.3 L445.9 463.0 L448.6 467.6 L451.3 472.0 L453.9 476.2 L456.6 480.3 L459.3 484.2 L461.9 487.9 L464.6 491.5 L467.3 494.9 L469.9 498.1 L472.6 501.1 L475.2 504.0 L477.9 506.8 L480.6 509.3 L483.2 511.8 L485.9 514.0 L488.6 516.2 L491.2 518.2 L493.9 520.0 L496.6 521.8 L499.2 523.4 L501.9 524.9 L504.6 526.3 L507.2 527.6 L509.9 528.7 L512.6 529.8 L515.2 530.9 L517.9 531.8 L520.6 532.6 L523.2 533.4 L525.9 534.1 L528.6 534.8 L531.2 535.4 L533.9 535.9 L536.6 536.4 L539.2 536.8 L541.9 537.2 L544.6 537.6 L547.2 537.9 L549.9 538.2 L552.6 538.5 L555.2 538.7 L557.9 538.9 L560.6 539.1 L563.2 539.3 L565.9 539.4 L568.6 539.6 L571.2 539.7 L573.9 539.8 L576.6 539.9 L579.2 540.0 L581.9 540.1 L584.6 540.1 L587.2 540.2 L589.9 540.2 L592.6 540.3 L595.2 540.3 L597.9 540.3 L600.6 540.4 L603.2 540.4 L605.9 540.4 L608.5 540.4 L611.2 540.5 L613.9 540.5 L616.5 540.5 L619.2 540.5 L621.9 540.5 L624.5 540.5 L627.2 540.5 L629.9 540.5 L632.5 540.5 L635.2 540.5 L637.9 540.5 L640.5 540.5 L643.2 540.5 L645.9 540.5 L648.5 540.5 L651.2 540.5 L653.9 540.5 L656.5 540.5 L659.2 540.5 L661.9 540.5 L664.5 540.5 L667.2 540.5 L669.9 540.5 L672.5 540.5 L675.2 540.5 L677.9 540.5 L680.5 540.5 L683.2 540.5 L685.9 540.5 L688.5 540.5 L691.2 540.5 L693.9 540.5 L696.5 540.5 L699.2 540.5 L701.9 540.5 L704.5 540.5 L707.2 540.5 L709.9 540.5 L712.5 540.5 L715.2 540.5 L717.9 540.5 L720.5 540.5 L723.2 540.5 L725.9 540.5 L728.5 540.5 L731.2 540.5 L733.9 540.5 L736.5 540.5 L739.2 540.5 L741.9 540.5 L744.5 540.5 L747.2 540.5 L749.8 540.5 L752.5 540.5 L755.2 540.5 L757.8 540.5 L760.5 540.5 L763.2 540.5 L765.8 540.5 L768.5 540.5 L771.2 540.5 L773.8 540.5 L776.5 540.5 L779.2 540.5 L781.8 540.5 L784.5 540.5 L787.2 540.5 L789.8 540.5 L792.5 540.5 L795.2 540.5 L797.8 540.5 L800.5 540.5 L803.2 540.5 L805.8 540.5 L808.5 540.5" fill="none" stroke="#13E9EF" stroke-width="6.2" stroke-linejoin="round" stroke-linecap="round"/>
<line x1="208.65" y1="543.70" x2="208.65" y2="538.70" stroke="#000" stroke-width="4.30" stroke-linecap="round"/>
<line x1="208.65" y1="53.50" x2="208.65" y2="58.50" stroke="#000" stroke-width="4.30" stroke-linecap="round"/>
<line x1="275.30" y1="543.70" x2="275.30" y2="533.70" stroke="#000" stroke-width="4.30" stroke-linecap="round"/>
<line x1="275.30" y1="53.50" x2="275.30" y2="63.50" stroke="#000" stroke-width="4.30" stroke-linecap="round"/>
<line x1="341.95" y1="543.70" x2="341.95" y2="538.70" stroke="#000" stroke-width="4.30" stroke-linecap="round"/>
<line x1="341.95" y1="53.50" x2="341.95" y2="58.50" stroke="#000" stroke-width="4.30" stroke-linecap="round"/>
<line x1="408.60" y1="543.70" x2="408.60" y2="533.70" stroke="#000" stroke-width="4.30" stroke-linecap="round"/>
<line x1="408.60" y1="53.50" x2="408.60" y2="63.50" stroke="#000" stroke-width="4.30" stroke-linecap="round"/>
<line x1="475.25" y1="543.70" x2="475.25" y2="538.70" stroke="#000" stroke-width="4.30" stroke-linecap="round"/>
<line x1="475.25" y1="53.50" x2="475.25" y2="58.50" stroke="#000" stroke-width="4.30" stroke-linecap="round"/>
<line x1="541.90" y1="543.70" x2="541.90" y2="533.70" stroke="#000" stroke-width="4.30" stroke-linecap="round"/>
<line x1="541.90" y1="53.50" x2="541.90" y2="63.50" stroke="#000" stroke-width="4.30" stroke-linecap="round"/>
<line x1="608.55" y1="543.70" x2="608.55" y2="538.70" stroke="#000" stroke-width="4.30" stroke-linecap="round"/>
<line x1="608.55" y1="53.50" x2="608.55" y2="58.50" stroke="#000" stroke-width="4.30" stroke-linecap="round"/>
<line x1="675.20" y1="543.70" x2="675.20" y2="533.70" stroke="#000" stroke-width="4.30" stroke-linecap="round"/>
<line x1="675.20" y1="53.50" x2="675.20" y2="63.50" stroke="#000" stroke-width="4.30" stroke-linecap="round"/>
<line x1="741.85" y1="543.70" x2="741.85" y2="538.70" stroke="#000" stroke-width="4.30" stroke-linecap="round"/>
<line x1="741.85" y1="53.50" x2="741.85" y2="58.50" stroke="#000" stroke-width="4.30" stroke-linecap="round"/>
<line x1="142.00" y1="486.03" x2="147.00" y2="486.03" stroke="#000" stroke-width="4.30" stroke-linecap="round"/>
<line x1="142.00" y1="428.36" x2="152.00" y2="428.36" stroke="#000" stroke-width="4.30" stroke-linecap="round"/>
<line x1="142.00" y1="370.69" x2="147.00" y2="370.69" stroke="#000" stroke-width="4.30" stroke-linecap="round"/>
<line x1="142.00" y1="313.02" x2="152.00" y2="313.02" stroke="#000" stroke-width="4.30" stroke-linecap="round"/>
<line x1="142.00" y1="255.35" x2="147.00" y2="255.35" stroke="#000" stroke-width="4.30" stroke-linecap="round"/>
<line x1="142.00" y1="197.68" x2="152.00" y2="197.68" stroke="#000" stroke-width="4.30" stroke-linecap="round"/>
<line x1="142.00" y1="140.01" x2="147.00" y2="140.01" stroke="#000" stroke-width="4.30" stroke-linecap="round"/>
<line x1="142.00" y1="82.34" x2="152.00" y2="82.34" stroke="#000" stroke-width="4.30" stroke-linecap="round"/>
<line x1="808.50" y1="473.67" x2="804.50" y2="473.67" stroke="#13E9EF" stroke-width="3.50" stroke-linecap="butt"/>
<line x1="808.50" y1="403.64" x2="798.50" y2="403.64" stroke="#13E9EF" stroke-width="3.50" stroke-linecap="butt"/>
<line x1="808.50" y1="333.61" x2="804.50" y2="333.61" stroke="#13E9EF" stroke-width="3.50" stroke-linecap="butt"/>
<line x1="808.50" y1="263.59" x2="798.50" y2="263.59" stroke="#13E9EF" stroke-width="3.50" stroke-linecap="butt"/>
<line x1="808.50" y1="193.56" x2="804.50" y2="193.56" stroke="#13E9EF" stroke-width="3.50" stroke-linecap="butt"/>
<line x1="808.50" y1="123.53" x2="798.50" y2="123.53" stroke="#13E9EF" stroke-width="3.50" stroke-linecap="butt"/>
<ellipse cx="541.8" cy="123.8" rx="17.3" ry="36.2" fill="none" stroke="#000" stroke-width="5.0"/>
<path d="M537 88.3 L505 88.3" stroke="#000" stroke-width="3.2" fill="none"/>
<path d="M492.5 88.3 L514.5 82.4 L514.5 94.2 Z" fill="#000"/>
<ellipse cx="394.6" cy="335.5" rx="17.8" ry="36.4" fill="none" stroke="#13E9EF" stroke-width="5.2"/>
<path d="M396 298.5 L440 298.5" stroke="#13E9EF" stroke-width="3.4" fill="none"/>
<path d="M454 298.5 L432 292.5 L432 304.5 Z" fill="#13E9EF"/>
<line x1="532.00" y1="293.40" x2="599.70" y2="293.40" stroke="#F00A0A" stroke-width="6.00" stroke-linecap="round"/>
<path d="M535.0 334.7 L535.0 334.7 L536.0 334.7 L537.0 334.7 L538.0 334.7 L539.0 334.7 L540.0 334.7 L541.0 334.7 L542.0 334.7 L543.0 334.7 L544.0 334.7 L545.0 334.7 L546.0 334.7 L547.0 334.7 L548.0 334.7 L549.0 334.7 L550.0 334.7 L551.0 334.7 L552.0 334.7 L553.0 334.7 L554.0 334.7 L555.0 334.7 L556.0 334.7 L556.0 334.7" fill="none" stroke="#058515" stroke-width="6.00" stroke-linecap="round" stroke-linejoin="round"/>
<path d="M588.0 334.7 L588.0 334.7 L589.0 334.7 L590.0 334.7 L591.0 334.7 L592.0 334.7 L593.0 334.7 L594.0 334.7 L595.0 334.7 L596.0 334.7 L597.0 334.7 L597.0 334.7" fill="none" stroke="#058515" stroke-width="6.00" stroke-linecap="round" stroke-linejoin="round"/>
<path d="M535.1 385.8 L536.0 385.8 L537.0 385.8 L538.0 385.8 L539.0 385.8 L540.0 385.8 L541.0 385.8 L542.0 385.8 L543.0 385.8 L544.0 385.8 L545.0 385.8 L546.0 385.8 L547.0 385.8 L548.0 385.8 L549.0 385.8 L550.0 385.8 L551.0 385.8 L552.0 385.8 L553.0 385.8 L554.0 385.8 L555.0 385.8 L556.0 385.8 L557.0 385.8 L558.0 385.8 L559.0 385.8 L560.0 385.8 L561.0 385.8 L561.9 385.8" fill="none" stroke="#0A14E0" stroke-width="6.20" stroke-linecap="round" stroke-linejoin="round"/>
<path d="M579.9 385.8 L580.0 385.8 L581.0 385.8 L582.0 385.8 L583.0 385.8 L583.1 385.8" fill="none" stroke="#0A14E0" stroke-width="6.20" stroke-linecap="round" stroke-linejoin="round"/>
<line x1="532.00" y1="436.90" x2="599.70" y2="436.90" stroke="#000" stroke-width="6.00" stroke-linecap="round"/>
<line x1="542.60" y1="507.60" x2="599.70" y2="507.60" stroke="#13E9EF" stroke-width="6.00" stroke-linecap="round"/>
<text x="72.60" y="33.00" font-size="43.50" fill="#000" style="font-weight:700" textLength="51.60" lengthAdjust="spacingAndGlyphs">(a)</text>
<text x="250.70" y="34.60" font-size="38.60" fill="#000" style="font-weight:700" textLength="464.32" lengthAdjust="spacingAndGlyphs">Laser fluence = 0.22 J/cm</text>
<text x="717.20" y="20.40" font-size="21.50" fill="#000" style="font-weight:700" textLength="14.03" lengthAdjust="spacingAndGlyphs">2</text>
<text x="617.60" y="113.60" font-size="37.00" fill="#000" style="font-weight:700" textLength="179.66" lengthAdjust="spacingAndGlyphs">Ge on SOI</text>
<text x="154.20" y="85.20" font-size="26.50" fill="#000" style="font-weight:700" textLength="128.76" lengthAdjust="spacingAndGlyphs">Si melting</text>
<text x="154.50" y="124.30" font-size="26.00" fill="#000" style="font-weight:700" textLength="156.74" lengthAdjust="spacingAndGlyphs">point = 1414</text>
<text x="321.40" y="111.90" font-size="18.50" fill="#000" style="font-weight:400" textLength="11.32" lengthAdjust="spacingAndGlyphs">o</text>
<text x="333.80" y="124.30" font-size="26.00" fill="#000" style="font-weight:700" textLength="14.74" lengthAdjust="spacingAndGlyphs">C</text>
<text x="377.50" y="244.50" font-size="25.50" fill="#000" style="font-weight:700" textLength="290.75" lengthAdjust="spacingAndGlyphs">Ge melting point = 937</text>
<text x="679.00" y="233.30" font-size="18.50" fill="#000" style="font-weight:400" textLength="9.62" lengthAdjust="spacingAndGlyphs">o</text>
<text x="689.70" y="244.30" font-size="25.50" fill="#000" style="font-weight:700" textLength="17.25" lengthAdjust="spacingAndGlyphs">C</text>
<text x="607.20" y="301.60" font-size="23.50" fill="#000" style="font-weight:700" textLength="82.75" lengthAdjust="spacingAndGlyphs">epi-Ge</text>
<text x="605.70" y="343.70" font-size="23.50" fill="#000" style="font-weight:700" textLength="112.80" lengthAdjust="spacingAndGlyphs">Si on SiO</text>
<text x="727.50" y="355.70" font-size="15.50" fill="#000" style="font-weight:700" textLength="7.52" lengthAdjust="spacingAndGlyphs">2</text>
<text x="605.70" y="394.80" font-size="23.50" fill="#000" style="font-weight:700">SiO</text>
<text x="652.30" y="406.80" font-size="15.50" fill="#000" style="font-weight:700" textLength="7.52" lengthAdjust="spacingAndGlyphs">2</text>
<text x="605.70" y="446.00" font-size="23.50" fill="#000" style="font-weight:700" textLength="154.88" lengthAdjust="spacingAndGlyphs">Si substrate</text>
<text x="607.20" y="515.10" font-size="23.50" fill="#000" style="font-weight:700" textLength="182.01" lengthAdjust="spacingAndGlyphs">laser intensity</text>
<text x="112.87" y="553.20" font-size="30.50" fill="#000" style="font-weight:700">0</text>
<text x="78.87" y="437.86" font-size="30.50" fill="#000" style="font-weight:700">400</text>
<text x="78.87" y="322.52" font-size="30.50" fill="#000" style="font-weight:700">800</text>
<text x="61.94" y="207.18" font-size="30.50" fill="#000" style="font-weight:700">1200</text>
<text x="61.94" y="91.84" font-size="30.50" fill="#000" style="font-weight:700">1600</text>
<text x="133.54" y="579.30" font-size="30.50" fill="#000" style="font-weight:700">0</text>
<text x="258.37" y="579.30" font-size="30.50" fill="#000" style="font-weight:700">10</text>
<text x="391.67" y="579.30" font-size="30.50" fill="#000" style="font-weight:700">20</text>
<text x="524.97" y="579.30" font-size="30.50" fill="#000" style="font-weight:700">30</text>
<text x="658.27" y="579.30" font-size="30.50" fill="#000" style="font-weight:700">40</text>
<text x="791.57" y="579.30" font-size="30.50" fill="#000" style="font-weight:700">50</text>
<text x="819.50" y="552.00" font-size="30.50" fill="#13E9EF" style="font-weight:700">0</text>
<text x="819.50" y="411.94" font-size="30.50" fill="#13E9EF" style="font-weight:700">20</text>
<text x="819.50" y="271.89" font-size="30.50" fill="#13E9EF" style="font-weight:700">40</text>
<text x="819.50" y="131.83" font-size="30.50" fill="#13E9EF" style="font-weight:700">60</text>
<text x="440.30" y="626.40" font-size="32.40" fill="#000" style="font-weight:700" textLength="144.06" lengthAdjust="spacingAndGlyphs">Time (ns)</text>
<g transform="translate(31.50 504.95) rotate(-90)">
<text x="0.00" y="0.00" font-size="31.50" fill="#000" style="font-weight:700" textLength="326.50" lengthAdjust="spacingAndGlyphs">Surface Temperature</text>
<text x="348.10" y="1.00" font-size="31.50" fill="#000" style="font-weight:400" textLength="8.95" lengthAdjust="spacingAndGlyphs">(</text>
<text x="358.70" y="-18.50" font-size="19.00" fill="#000" style="font-weight:400" textLength="10.02" lengthAdjust="spacingAndGlyphs">o</text>
<text x="371.30" y="0.00" font-size="31.50" fill="#000" style="font-weight:700" textLength="20.66" lengthAdjust="spacingAndGlyphs">C</text>
<text x="394.10" y="1.00" font-size="31.50" fill="#000" style="font-weight:400" textLength="8.95" lengthAdjust="spacingAndGlyphs">)</text>
</g>
<g transform="translate(896 146.60) rotate(90)">
<text x="0.00" y="0.00" font-size="32.50" fill="#13E9EF" style="font-weight:700" textLength="134.56" lengthAdjust="spacingAndGlyphs">Intensity</text>
<text x="144.00" y="2.00" font-size="32.50" fill="#13E9EF" style="font-weight:700" textLength="10.94" lengthAdjust="spacingAndGlyphs">(</text>
<text x="157.30" y="0.00" font-size="32.50" fill="#13E9EF" style="font-weight:700" textLength="112.20" lengthAdjust="spacingAndGlyphs">MW/cm</text>
<text x="272.80" y="-17.00" font-size="19.50" fill="#13E9EF" style="font-weight:700" textLength="10.02" lengthAdjust="spacingAndGlyphs">2</text>
<text x="283.50" y="2.00" font-size="32.50" fill="#13E9EF" style="font-weight:700" textLength="11.13" lengthAdjust="spacingAndGlyphs">)</text>
</g>
<path d="M142.0 1176.5 L142.2 1176.5 L142.8 1176.3 L143.7 1176.1 L144.9 1175.8 L146.3 1175.4 L148.0 1175.0 L149.7 1174.5 L151.6 1174.0 L153.6 1173.5 L155.6 1172.9 L157.5 1172.4 L159.4 1171.8 L161.1 1171.2 L162.7 1170.7 L164.1 1170.2 L165.5 1169.7 L166.9 1169.2 L168.3 1168.6 L169.8 1168.1 L171.2 1167.5 L172.6 1166.9 L174.0 1166.3 L175.5 1165.7 L176.9 1165.0 L178.3 1164.4 L179.7 1163.7 L181.1 1163.0 L182.5 1162.3 L183.9 1161.6 L185.3 1160.8 L186.6 1160.1 L187.9 1159.3 L189.2 1158.6 L190.5 1157.9 L191.8 1157.1 L193.1 1156.4 L194.4 1155.6 L195.7 1154.8 L197.0 1154.0 L198.3 1153.1 L199.6 1152.3 L200.8 1151.3 L202.1 1150.4 L203.3 1149.4 L204.5 1148.3 L205.7 1147.2 L206.9 1146.0 L208.0 1144.8 L208.9 1143.8 L209.7 1142.8 L210.5 1141.7 L211.4 1140.6 L212.2 1139.4 L213.0 1138.2 L213.8 1137.0 L214.6 1135.7 L215.4 1134.4 L216.2 1133.1 L217.0 1131.7 L217.8 1130.3 L218.5 1128.9 L219.3 1127.5 L220.0 1126.1 L220.8 1124.6 L221.5 1123.2 L222.2 1121.8 L223.0 1120.3 L223.7 1118.9 L224.3 1117.4 L225.0 1116.0 L225.7 1114.6 L226.4 1113.2 L227.0 1111.8 L227.7 1110.4 L228.3 1109.1 L228.9 1107.8 L229.5 1106.5 L230.1 1105.2 L230.7 1104.0 L231.4 1102.4 L232.2 1100.9 L232.9 1099.4 L233.5 1097.9 L234.2 1096.4 L234.8 1094.9 L235.4 1093.4 L236.0 1091.9 L236.6 1090.4 L237.2 1089.0 L237.8 1087.6 L238.3 1086.2 L238.9 1084.8 L239.4 1083.4 L239.9 1082.0 L240.5 1080.7 L241.0 1079.3 L241.5 1078.0 L242.0 1076.7 L242.6 1075.1 L243.3 1073.6 L243.9 1072.1 L244.4 1070.7 L245.0 1069.3 L245.6 1067.9 L246.1 1066.5 L246.7 1065.1 L247.2 1063.6 L247.7 1062.0 L248.3 1060.4 L248.8 1058.6 L249.2 1057.4 L249.5 1056.1 L249.9 1054.8 L250.2 1053.5 L250.5 1052.1 L250.9 1050.8 L251.2 1049.3 L251.6 1047.9 L251.9 1046.4 L252.3 1044.9 L252.6 1043.4 L252.9 1041.9 L253.3 1040.3 L253.6 1038.7 L253.9 1037.2 L254.2 1035.6 L254.6 1034.0 L254.9 1032.3 L255.2 1030.7 L255.5 1029.1 L255.9 1027.5 L256.2 1025.9 L256.5 1024.2 L256.8 1022.6 L257.2 1021.0 L257.5 1019.4 L257.8 1017.8 L258.1 1016.4 L258.4 1014.9 L258.7 1013.5 L258.9 1012.0 L259.2 1010.5 L259.5 1009.0 L259.8 1007.5 L260.1 1006.0 L260.4 1004.5 L260.7 1003.0 L260.9 1001.5 L261.2 1000.0 L261.5 998.4 L261.8 996.9 L262.1 995.4 L262.3 993.8 L262.6 992.3 L262.9 990.7 L263.2 989.2 L263.4 987.7 L263.7 986.1 L264.0 984.6 L264.2 983.1 L264.5 981.5 L264.8 980.0 L265.1 978.5 L265.3 977.0 L265.6 975.4 L265.9 973.9 L266.1 972.4 L266.4 971.0 L266.6 969.5 L266.9 968.0 L267.2 966.4 L267.5 964.8 L267.8 963.1 L268.1 961.3 L268.4 959.4 L268.7 957.5 L269.1 955.6 L269.4 953.6 L269.7 951.7 L270.1 949.7 L270.4 947.7 L270.7 945.8 L271.1 943.8 L271.4 941.9 L271.7 940.0 L272.0 938.2 L272.3 936.5 L272.6 934.8 L272.9 933.2 L273.1 931.7 L273.4 930.2 L273.6 928.9 L273.8 927.7 L274.0 926.7 L274.1 925.7 L274.3 925.0 L274.4 924.3 L274.4 923.9 L274.5 923.6 L274.5 923.5 L274.8 923.3 L275.6 922.8 L276.8 922.1 L278.3 921.1 L280.1 920.1 L282.0 919.1 L283.9 918.1 L285.8 917.2 L287.5 916.5 L289.0 916.0 L290.5 915.7 L292.0 915.4 L293.6 915.1 L295.2 914.9 L296.8 914.7 L298.5 914.5 L300.1 914.3 L301.8 914.1 L303.5 913.8 L305.2 913.4 L306.6 913.1 L308.0 912.7 L309.5 912.3 L311.0 911.9 L312.5 911.5 L314.0 911.1 L315.6 910.7 L317.1 910.2 L318.6 909.7 L320.2 909.2 L321.7 908.7 L323.2 908.2 L324.6 907.7 L326.1 907.1 L327.5 906.5 L328.8 905.9 L330.2 905.2 L331.6 904.5 L333.0 903.7 L334.3 902.9 L335.6 902.1 L336.9 901.3 L338.2 900.5 L339.4 899.6 L340.7 898.8 L342.0 897.9 L343.3 897.0 L344.6 896.0 L346.0 895.1 L347.2 894.3 L348.4 893.4 L349.6 892.5 L350.8 891.5 L352.0 890.6 L353.2 889.5 L354.4 888.5 L355.6 887.5 L356.9 886.5 L358.1 885.5 L359.4 884.5 L360.7 883.6 L362.0 882.7 L363.3 881.8 L364.6 881.0 L365.9 880.3 L367.2 879.6 L368.6 879.0 L370.0 878.5 L371.5 878.0 L373.0 877.5 L374.5 877.1 L376.1 876.7 L377.6 876.4 L379.2 876.1 L380.8 875.9 L382.4 875.6 L384.0 875.5 L385.6 875.3 L387.1 875.2 L388.6 875.2 L390.1 875.2 L391.6 875.2 L393.0 875.2 L394.4 875.3 L396.1 875.5 L397.7 875.7 L399.4 876.1 L400.9 876.5 L402.5 877.0 L404.0 877.5 L405.5 878.0 L407.0 878.6 L408.5 879.2 L410.0 879.8 L411.5 880.4 L412.9 881.0 L414.4 881.6 L415.8 882.2 L417.3 882.8 L418.7 883.5 L420.1 884.2 L421.6 884.9 L423.0 885.6 L424.4 886.3 L425.8 887.0 L427.3 887.7 L428.7 888.4 L430.1 889.1 L431.6 889.8 L433.0 890.5 L434.4 891.2 L435.9 891.9 L437.3 892.7 L438.7 893.4 L440.2 894.1 L441.6 894.8 L443.0 895.5 L444.5 896.2 L445.9 896.9 L447.3 897.6 L448.8 898.3 L450.2 899.0 L451.6 899.6 L453.0 900.3 L454.5 901.0 L455.9 901.7 L457.3 902.3 L458.8 902.9 L460.2 903.6 L461.7 904.1 L463.1 904.7 L464.6 905.3 L466.2 905.8 L467.8 906.3 L469.3 906.8 L470.9 907.3 L472.4 907.7 L474.0 908.2 L475.6 908.6 L477.2 909.0 L478.7 909.4 L480.3 909.8 L481.8 910.2 L483.4 910.5 L484.9 910.9 L486.4 911.2 L488.0 911.6 L489.5 911.9 L491.1 912.2 L492.6 912.5 L494.2 912.8 L495.8 913.0 L497.5 913.3 L498.9 913.5 L500.4 913.7 L501.8 913.9 L503.3 914.1 L504.8 914.3 L506.3 914.5 L507.9 914.7 L509.4 914.9 L510.9 915.0 L512.5 915.2 L514.0 915.3 L515.5 915.5 L517.0 915.6 L518.5 915.7 L520.0 915.8 L521.5 915.9 L523.0 916.0 L524.5 916.0 L525.9 916.1 L527.3 916.1 L528.7 916.1 L530.2 916.1 L531.6 916.1 L533.2 916.2 L534.7 916.2 L536.4 916.2 L538.1 916.2 L540.0 916.2 L541.2 916.2 L542.5 916.2 L544.0 916.2 L545.5 916.2 L547.1 916.3 L548.9 916.3 L550.7 916.3 L552.5 916.3 L554.4 916.3 L556.4 916.3 L558.4 916.3 L560.4 916.3 L562.4 916.3 L564.5 916.3 L566.6 916.3 L568.6 916.4 L570.7 916.4 L572.7 916.4 L574.7 916.4 L576.6 916.4 L578.5 916.4 L580.3 916.4 L582.1 916.4 L583.8 916.4 L585.4 916.4 L586.9 916.4 L588.3 916.4 L589.6 916.4 L590.8 916.4 L591.9 916.4 L592.8 916.4 L593.6 916.4 L594.2 916.4 L594.6 916.4 L594.9 916.4 L595.0 916.4 L595.5 917.3 L596.1 918.1 L596.6 919.0 L597.1 919.8 L597.7 920.7 L598.2 921.5 L598.8 922.4 L599.3 923.2 L599.8 924.1 L600.4 924.9 L600.9 925.8 L601.5 926.6 L602.0 927.5 L602.5 928.3 L603.1 929.2 L603.6 930.0 L604.1 930.9 L604.7 931.7 L605.2 932.6 L605.8 933.4 L606.3 934.3 L606.8 935.1 L607.4 936.0 L607.9 936.8 L608.4 937.7 L609.0 938.6 L609.5 939.4 L610.0 940.3 L610.6 941.1 L611.1 942.0 L611.7 942.8 L612.2 943.7 L612.7 944.5 L613.3 945.4 L613.8 946.2 L614.3 947.1 L614.9 947.9 L615.4 948.8 L616.0 949.6 L616.5 950.5 L617.0 951.3 L617.6 952.2 L618.1 953.0 L618.6 953.9 L619.2 954.7 L619.7 955.6 L620.3 956.4 L620.8 957.3 L620.9 957.4 L621.3 957.7 L621.8 958.2 L622.5 958.8 L623.4 959.6 L624.4 960.5 L625.6 961.5 L626.9 962.7 L628.2 963.8 L629.7 965.1 L631.2 966.4 L632.7 967.7 L634.3 969.0 L635.9 970.3 L637.4 971.6 L638.9 972.9 L640.4 974.1 L641.8 975.2 L643.1 976.2 L644.3 977.1 L645.5 978.0 L646.6 978.9 L647.8 979.8 L649.1 980.7 L650.3 981.5 L651.5 982.4 L652.7 983.3 L654.0 984.2 L655.2 985.1 L656.5 985.9 L657.8 986.8 L659.0 987.7 L660.3 988.5 L661.6 989.4 L662.9 990.2 L664.1 991.1 L665.4 991.9 L666.7 992.7 L668.0 993.5 L669.3 994.3 L670.6 995.1 L671.9 995.9 L673.2 996.6 L674.5 997.4 L675.8 998.2 L677.1 998.9 L678.4 999.6 L679.7 1000.4 L681.0 1001.1 L682.3 1001.8 L683.6 1002.5 L684.9 1003.2 L686.3 1003.9 L687.6 1004.6 L688.9 1005.3 L690.3 1006.0 L691.7 1006.7 L693.0 1007.3 L694.4 1008.0 L695.8 1008.7 L697.2 1009.3 L698.6 1010.0 L700.0 1010.6 L701.3 1011.2 L702.7 1011.8 L704.1 1012.4 L705.5 1013.0 L706.8 1013.6 L708.2 1014.1 L709.7 1014.7 L711.1 1015.3 L712.5 1015.8 L713.9 1016.4 L715.4 1016.9 L716.8 1017.5 L718.2 1018.0 L719.7 1018.6 L721.2 1019.1 L722.6 1019.6 L724.1 1020.2 L725.5 1020.7 L727.0 1021.2 L728.4 1021.7 L729.9 1022.2 L731.3 1022.7 L732.8 1023.2 L734.3 1023.7 L735.7 1024.2 L737.1 1024.7 L738.6 1025.2 L740.0 1025.6 L741.5 1026.1 L743.0 1026.6 L744.4 1027.1 L745.9 1027.5 L747.3 1028.0 L748.8 1028.4 L750.3 1028.9 L751.7 1029.3 L753.2 1029.7 L754.7 1030.2 L756.1 1030.6 L757.6 1031.0 L759.1 1031.5 L760.5 1031.9 L762.0 1032.3 L763.5 1032.7 L764.9 1033.1 L766.4 1033.5 L767.8 1033.9 L769.3 1034.3 L770.8 1034.7 L772.2 1035.1 L773.8 1035.5 L775.5 1036.0 L777.3 1036.4 L779.1 1036.9 L781.1 1037.4 L783.0 1037.9 L785.0 1038.4 L787.1 1038.8 L789.1 1039.3 L791.0 1039.8 L793.0 1040.3 L794.9 1040.7 L796.7 1041.1 L798.4 1041.5 L800.0 1041.9 L801.5 1042.2 L802.8 1042.6 L804.0 1042.8 L805.0 1043.1 L805.8 1043.2 L806.4 1043.4 L806.8 1043.5 L806.9 1043.5" fill="none" stroke="#F00A0A" stroke-width="5.20" stroke-linejoin="round" stroke-linecap="round"/>
<path d="M142.0 1182.0 L142.1 1182.0 L142.5 1181.9 L143.1 1181.9 L143.9 1181.8 L144.9 1181.6 L146.1 1181.5 L147.4 1181.3 L148.9 1181.0 L150.5 1180.8 L152.2 1180.5 L154.0 1180.3 L155.9 1179.9 L157.8 1179.6 L159.7 1179.3 L161.7 1178.9 L163.7 1178.5 L165.6 1178.1 L167.5 1177.7 L169.4 1177.2 L171.2 1176.8 L172.9 1176.3 L174.5 1175.8 L176.0 1175.3 L177.4 1174.8 L178.8 1174.3 L180.2 1173.7 L181.6 1173.1 L183.0 1172.5 L184.4 1171.9 L185.7 1171.2 L187.1 1170.5 L188.5 1169.8 L189.9 1169.1 L191.3 1168.4 L192.6 1167.7 L194.0 1166.9 L195.3 1166.1 L196.6 1165.4 L198.0 1164.6 L199.3 1163.8 L200.6 1163.0 L201.8 1162.2 L203.1 1161.4 L204.4 1160.7 L205.6 1159.9 L206.8 1159.1 L208.0 1158.3 L209.3 1157.4 L210.6 1156.5 L211.9 1155.6 L213.2 1154.7 L214.5 1153.8 L215.7 1152.9 L217.0 1152.0 L218.2 1151.1 L219.4 1150.2 L220.6 1149.2 L221.8 1148.3 L222.9 1147.3 L224.1 1146.3 L225.2 1145.4 L226.3 1144.4 L227.4 1143.3 L228.5 1142.3 L229.6 1141.3 L230.7 1140.2 L231.8 1139.1 L232.8 1138.0 L233.8 1137.0 L234.9 1135.9 L235.9 1134.7 L236.8 1133.6 L237.8 1132.5 L238.8 1131.3 L239.7 1130.2 L240.7 1129.0 L241.6 1127.8 L242.5 1126.6 L243.4 1125.4 L244.3 1124.1 L245.2 1122.8 L246.1 1121.5 L247.0 1120.2 L247.9 1118.9 L248.8 1117.5 L249.5 1116.3 L250.3 1115.2 L251.0 1114.0 L251.7 1112.7 L252.4 1111.5 L253.1 1110.2 L253.8 1109.0 L254.4 1107.7 L255.1 1106.4 L255.8 1105.1 L256.4 1103.8 L257.1 1102.4 L257.8 1101.1 L258.4 1099.7 L259.1 1098.3 L259.7 1097.0 L260.4 1095.6 L261.0 1094.2 L261.7 1092.7 L262.3 1091.3 L263.0 1089.9 L263.6 1088.5 L264.3 1087.0 L264.9 1085.6 L265.6 1084.1 L266.2 1082.7 L266.9 1081.2 L267.5 1079.9 L268.1 1078.4 L268.8 1076.9 L269.5 1075.3 L270.2 1073.7 L270.9 1072.0 L271.7 1070.2 L272.4 1068.4 L273.2 1066.6 L274.0 1064.7 L274.7 1062.8 L275.5 1060.9 L276.3 1059.0 L277.1 1057.1 L277.8 1055.2 L278.6 1053.4 L279.3 1051.5 L280.0 1049.7 L280.7 1047.9 L281.4 1046.2 L282.1 1044.6 L282.7 1043.0 L283.3 1041.4 L283.9 1040.0 L284.5 1038.6 L285.0 1037.4 L285.4 1036.2 L285.8 1035.1 L286.2 1034.2 L286.5 1033.4 L286.8 1032.7 L287.0 1032.1 L287.2 1031.7 L287.3 1031.5 L287.3 1031.4 L287.4 1031.3 L287.7 1030.9 L288.2 1030.3 L288.8 1029.5 L289.5 1028.6 L290.4 1027.5 L291.4 1026.3 L292.5 1025.0 L293.7 1023.6 L295.0 1022.1 L296.2 1020.6 L297.6 1019.1 L298.9 1017.6 L300.2 1016.1 L301.5 1014.7 L302.8 1013.4 L304.0 1012.2 L305.2 1011.1 L306.3 1010.1 L307.5 1009.1 L308.7 1008.2 L309.9 1007.2 L311.1 1006.3 L312.3 1005.4 L313.6 1004.5 L314.9 1003.6 L316.1 1002.7 L317.4 1001.8 L318.7 1001.0 L320.0 1000.1 L321.3 999.2 L322.6 998.4 L323.8 997.5 L325.1 996.6 L326.4 995.7 L327.6 994.8 L328.8 993.9 L330.0 993.0 L331.3 992.0 L332.5 991.1 L333.7 990.2 L335.0 989.2 L336.2 988.3 L337.4 987.4 L338.7 986.4 L339.9 985.5 L341.1 984.6 L342.3 983.6 L343.5 982.7 L344.6 981.7 L345.8 980.7 L347.0 979.7 L348.1 978.7 L349.2 977.7 L350.3 976.7 L351.4 975.6 L352.5 974.5 L353.5 973.4 L354.6 972.3 L355.6 971.2 L356.6 970.0 L357.6 968.9 L358.6 967.7 L359.5 966.5 L360.5 965.4 L361.5 964.2 L362.5 963.0 L363.4 961.9 L364.4 960.7 L365.4 959.6 L366.5 958.5 L367.5 957.4 L368.6 956.3 L369.7 955.1 L370.8 954.0 L371.9 952.8 L373.0 951.7 L374.1 950.5 L375.2 949.4 L376.3 948.3 L377.5 947.2 L378.6 946.1 L379.8 945.0 L380.9 944.0 L382.1 942.9 L383.3 941.9 L384.5 941.0 L385.8 940.0 L387.0 939.1 L388.2 938.2 L389.5 937.3 L390.8 936.4 L392.1 935.6 L393.4 934.7 L394.7 933.9 L396.0 933.0 L397.3 932.2 L398.7 931.5 L400.0 930.7 L401.4 930.1 L402.7 929.4 L404.1 928.8 L405.4 928.2 L406.8 927.7 L408.1 927.3 L409.7 926.9 L411.3 926.5 L412.9 926.2 L414.5 926.0 L416.1 925.9 L417.7 925.8 L419.3 925.7 L420.9 925.7 L422.5 925.7 L424.1 925.7 L425.6 925.7 L427.2 925.6 L428.7 925.6 L430.3 925.5 L431.9 925.5 L433.5 925.4 L435.1 925.4 L436.6 925.4 L438.2 925.4 L439.7 925.4 L441.3 925.4 L442.8 925.4 L444.3 925.5 L445.9 925.6 L447.5 925.7 L449.0 925.9 L450.6 926.1 L452.2 926.3 L453.7 926.5 L455.3 926.7 L456.9 927.0 L458.4 927.2 L460.0 927.5 L461.5 927.7 L463.1 928.0 L464.6 928.3 L466.1 928.5 L467.6 928.8 L469.1 929.0 L470.6 929.3 L472.1 929.6 L473.6 929.9 L475.2 930.2 L476.8 930.5 L478.5 930.9 L480.3 931.3 L481.6 931.6 L482.9 931.9 L484.2 932.2 L485.6 932.5 L487.0 932.9 L488.4 933.2 L489.9 933.6 L491.4 934.0 L492.9 934.4 L494.4 934.7 L496.0 935.1 L497.6 935.5 L499.1 936.0 L500.7 936.4 L502.3 936.8 L503.9 937.2 L505.5 937.6 L507.1 938.0 L508.7 938.4 L510.3 938.8 L511.9 939.1 L513.4 939.5 L515.0 939.9 L516.5 940.2 L518.0 940.5 L519.6 940.9 L521.1 941.2 L522.7 941.6 L524.2 941.9 L525.8 942.2 L527.4 942.6 L529.0 942.9 L530.6 943.2 L532.2 943.6 L533.8 943.9 L535.3 944.2 L536.9 944.5 L538.5 944.8 L540.0 945.1 L541.5 945.4 L543.0 945.7 L544.5 946.0 L546.0 946.3 L547.5 946.5 L548.9 946.8 L550.3 947.0 L551.7 947.3 L553.0 947.5 L554.7 947.8 L556.3 948.0 L557.9 948.2 L559.4 948.4 L560.9 948.6 L562.3 948.8 L563.8 949.0 L565.2 949.2 L566.7 949.3 L568.1 949.5 L569.6 949.7 L571.2 949.9 L572.7 950.1 L574.4 950.4 L575.8 950.6 L577.4 950.9 L579.0 951.2 L580.8 951.5 L582.7 951.8 L584.6 952.2 L586.5 952.6 L588.5 952.9 L590.5 953.3 L592.4 953.7 L594.4 954.0 L596.2 954.4 L598.0 954.7 L599.7 955.1 L601.2 955.4 L602.6 955.6 L603.9 955.9 L604.9 956.1 L605.8 956.3 L606.5 956.4 L606.9 956.5 L607.0 956.5 L607.2 956.6 L607.6 957.0 L608.3 957.5 L609.2 958.3 L610.4 959.2 L611.7 960.2 L613.1 961.4 L614.7 962.6 L616.3 963.8 L617.9 965.1 L619.6 966.4 L621.3 967.7 L622.9 968.9 L624.5 970.1 L625.9 971.1 L627.1 971.9 L628.3 972.8 L629.5 973.7 L630.8 974.5 L632.0 975.4 L633.3 976.2 L634.6 977.1 L635.9 978.0 L637.2 978.8 L638.5 979.7 L639.8 980.6 L641.1 981.4 L642.5 982.3 L643.8 983.2 L645.1 984.0 L646.4 984.9 L647.8 985.7 L649.1 986.5 L650.4 987.4 L651.7 988.2 L653.0 989.0 L654.3 989.8 L655.6 990.6 L656.9 991.4 L658.2 992.2 L659.5 993.0 L660.8 993.8 L662.1 994.6 L663.4 995.4 L664.7 996.2 L666.0 997.0 L667.3 997.7 L668.6 998.5 L669.9 999.3 L671.1 1000.0 L672.4 1000.8 L673.7 1001.5 L675.0 1002.3 L676.2 1003.0 L677.5 1003.7 L678.8 1004.5 L680.2 1005.2 L681.5 1006.0 L682.7 1006.7 L684.0 1007.4 L685.3 1008.2 L686.5 1008.9 L687.8 1009.6 L689.1 1010.3 L690.4 1011.0 L691.7 1011.7 L693.0 1012.3 L694.3 1013.0 L695.7 1013.7 L697.1 1014.4 L698.5 1015.0 L700.0 1015.7 L701.3 1016.3 L702.5 1016.8 L703.9 1017.3 L705.2 1017.9 L706.5 1018.4 L707.9 1019.0 L709.3 1019.5 L710.7 1020.1 L712.1 1020.6 L713.6 1021.1 L715.0 1021.6 L716.5 1022.2 L718.0 1022.7 L719.4 1023.2 L720.9 1023.7 L722.4 1024.2 L723.9 1024.7 L725.4 1025.2 L726.9 1025.7 L728.4 1026.2 L729.8 1026.7 L731.3 1027.1 L732.8 1027.6 L734.2 1028.0 L735.7 1028.5 L737.1 1028.9 L738.6 1029.4 L740.0 1029.8 L741.5 1030.2 L743.0 1030.6 L744.4 1031.1 L745.9 1031.5 L747.3 1031.9 L748.8 1032.2 L750.3 1032.6 L751.7 1033.0 L753.2 1033.4 L754.7 1033.8 L756.1 1034.1 L757.6 1034.5 L759.1 1034.9 L760.5 1035.2 L762.0 1035.6 L763.5 1036.0 L764.9 1036.3 L766.4 1036.7 L767.9 1037.0 L769.3 1037.4 L770.8 1037.7 L772.2 1038.1 L773.8 1038.5 L775.5 1038.9 L777.3 1039.3 L779.1 1039.8 L781.1 1040.2 L783.1 1040.7 L785.1 1041.1 L787.1 1041.6 L789.1 1042.1 L791.0 1042.5 L793.0 1043.0 L794.9 1043.4 L796.7 1043.8 L798.4 1044.2 L800.0 1044.6 L801.5 1044.9 L802.8 1045.2 L804.0 1045.5 L805.0 1045.7 L805.8 1045.9 L806.4 1046.0 L806.8 1046.1 L806.9 1046.1" fill="none" stroke="#000" stroke-width="6.00" stroke-linejoin="round" stroke-linecap="round"/>
<line x1="142.00" y1="778.30" x2="808.50" y2="778.30" stroke="#000" stroke-width="3.00" stroke-linecap="butt"/>
<line x1="142.00" y1="916.30" x2="808.50" y2="916.30" stroke="#000" stroke-width="3.4" stroke-dasharray="16 15.75" stroke-dashoffset="3"/>
<path d="M808.50 696.30 L142.00 696.30 L142.00 1186.00 L808.50 1186.00" fill="none" stroke="#000" stroke-width="5.8" stroke-linejoin="miter"/>
<line x1="808.50" y1="693.70" x2="808.50" y2="1188.60" stroke="#13E9EF" stroke-width="6.20" stroke-linecap="butt"/>
<path d="M142.0 1180.5 L144.7 1180.1 L147.3 1179.6 L150.0 1179.1 L152.7 1178.6 L155.3 1178.0 L158.0 1177.3 L160.7 1176.6 L163.3 1175.8 L166.0 1174.9 L168.7 1174.0 L171.3 1172.9 L174.0 1171.8 L176.7 1170.6 L179.3 1169.3 L182.0 1167.9 L184.7 1166.6 L187.3 1165.1 L190.0 1163.6 L192.7 1161.9 L195.3 1160.2 L198.0 1158.3 L200.7 1156.3 L203.3 1154.1 L206.0 1151.9 L208.7 1149.5 L211.3 1146.9 L214.0 1144.3 L216.6 1141.4 L219.3 1138.4 L222.0 1135.2 L224.6 1131.5 L227.3 1127.7 L230.0 1123.7 L232.6 1119.5 L235.3 1115.1 L238.0 1110.6 L240.6 1105.9 L243.3 1101.0 L246.0 1095.9 L248.6 1090.7 L251.3 1085.3 L254.0 1079.8 L256.6 1074.2 L259.3 1068.5 L262.0 1062.6 L264.6 1056.7 L267.3 1050.7 L270.0 1044.6 L272.6 1038.5 L275.3 1032.3 L278.0 1026.1 L280.6 1020.0 L283.3 1013.8 L286.0 1007.7 L288.6 1001.7 L291.3 995.7 L294.0 989.8 L296.6 984.1 L299.3 978.5 L302.0 973.1 L304.6 968.0 L307.3 963.1 L310.0 958.5 L312.6 954.3 L315.3 950.5 L318.0 947.1 L320.6 944.2 L323.3 941.6 L326.0 939.5 L328.6 937.7 L331.3 936.3 L334.0 935.3 L336.6 934.6 L339.3 934.2 L341.9 934.2 L344.6 934.5 L347.3 935.1 L349.9 936.2 L352.6 937.6 L355.3 939.4 L357.9 941.5 L360.6 944.0 L363.3 946.9 L365.9 950.1 L368.6 953.5 L371.3 957.3 L373.9 961.4 L376.6 965.7 L379.3 970.3 L381.9 975.0 L384.6 980.0 L387.3 985.2 L389.9 990.6 L392.6 996.1 L395.3 1001.7 L397.9 1007.4 L400.6 1013.2 L403.3 1019.1 L405.9 1025.0 L408.6 1030.9 L411.3 1036.9 L413.9 1042.8 L416.6 1048.7 L419.3 1054.5 L421.9 1060.3 L424.6 1066.0 L427.3 1071.7 L429.9 1077.2 L432.6 1082.6 L435.3 1087.8 L437.9 1093.0 L440.6 1098.0 L443.3 1102.8 L445.9 1107.5 L448.6 1112.0 L451.3 1116.4 L453.9 1120.6 L456.6 1124.6 L459.3 1128.5 L461.9 1132.2 L464.6 1135.7 L467.3 1139.0 L469.9 1142.2 L472.6 1145.2 L475.2 1148.1 L477.9 1150.8 L480.6 1153.3 L483.2 1155.7 L485.9 1157.9 L488.6 1160.0 L491.2 1162.0 L493.9 1163.8 L496.6 1165.5 L499.2 1167.1 L501.9 1168.6 L504.6 1169.9 L507.2 1171.2 L509.9 1172.4 L512.6 1173.5 L515.2 1174.4 L517.9 1175.4 L520.6 1176.2 L523.2 1177.0 L525.9 1177.6 L528.6 1178.3 L531.2 1178.9 L533.9 1179.4 L536.6 1179.9 L539.2 1180.3 L541.9 1180.7 L544.6 1181.0 L547.2 1181.4 L549.9 1181.6 L552.6 1181.9 L555.2 1182.1 L557.9 1182.3 L560.6 1182.5 L563.2 1182.7 L565.9 1182.8 L568.6 1183.0 L571.2 1183.1 L573.9 1183.2 L576.6 1183.3 L579.2 1183.4 L581.9 1183.4 L584.6 1183.5 L587.2 1183.5 L589.9 1183.6 L592.6 1183.6 L595.2 1183.7 L597.9 1183.7 L600.6 1183.7 L603.2 1183.8 L605.9 1183.8 L608.5 1183.8 L611.2 1183.8 L613.9 1183.8 L616.5 1183.8 L619.2 1183.8 L621.9 1183.9 L624.5 1183.9 L627.2 1183.9 L629.9 1183.9 L632.5 1183.9 L635.2 1183.9 L637.9 1183.9 L640.5 1183.9 L643.2 1183.9 L645.9 1183.9 L648.5 1183.9 L651.2 1183.9 L653.9 1183.9 L656.5 1183.9 L659.2 1183.9 L661.9 1183.9 L664.5 1183.9 L667.2 1183.9 L669.9 1183.9 L672.5 1183.9 L675.2 1183.9 L677.9 1183.9 L680.5 1183.9 L683.2 1183.9 L685.9 1183.9 L688.5 1183.9 L691.2 1183.9 L693.9 1183.9 L696.5 1183.9 L699.2 1183.9 L701.9 1183.9 L704.5 1183.9 L707.2 1183.9 L709.9 1183.9 L712.5 1183.9 L715.2 1183.9 L717.9 1183.9 L720.5 1183.9 L723.2 1183.9 L725.9 1183.9 L728.5 1183.9 L731.2 1183.9 L733.9 1183.9 L736.5 1183.9 L739.2 1183.9 L741.9 1183.9 L744.5 1183.9 L747.2 1183.9 L749.8 1183.9 L752.5 1183.9 L755.2 1183.9 L757.8 1183.9 L760.5 1183.9 L763.2 1183.9 L765.8 1183.9 L768.5 1183.9 L771.2 1183.9 L773.8 1183.9 L776.5 1183.9 L779.2 1183.9 L781.8 1183.9 L784.5 1183.9 L787.2 1183.9 L789.8 1183.9 L792.5 1183.9 L795.2 1183.9 L797.8 1183.9 L800.5 1183.9 L803.2 1183.9 L805.8 1183.9 L808.5 1183.9" fill="none" stroke="#13E9EF" stroke-width="6.2" stroke-linejoin="round" stroke-linecap="round"/>
<line x1="208.65" y1="1186.00" x2="208.65" y2="1181.00" stroke="#000" stroke-width="4.30" stroke-linecap="round"/>
<line x1="208.65" y1="696.30" x2="208.65" y2="701.30" stroke="#000" stroke-width="4.30" stroke-linecap="round"/>
<line x1="275.30" y1="1186.00" x2="275.30" y2="1176.00" stroke="#000" stroke-width="4.30" stroke-linecap="round"/>
<line x1="275.30" y1="696.30" x2="275.30" y2="706.30" stroke="#000" stroke-width="4.30" stroke-linecap="round"/>
<line x1="341.95" y1="1186.00" x2="341.95" y2="1181.00" stroke="#000" stroke-width="4.30" stroke-linecap="round"/>
<line x1="341.95" y1="696.30" x2="341.95" y2="701.30" stroke="#000" stroke-width="4.30" stroke-linecap="round"/>
<line x1="408.60" y1="1186.00" x2="408.60" y2="1176.00" stroke="#000" stroke-width="4.30" stroke-linecap="round"/>
<line x1="408.60" y1="696.30" x2="408.60" y2="706.30" stroke="#000" stroke-width="4.30" stroke-linecap="round"/>
<line x1="475.25" y1="1186.00" x2="475.25" y2="1181.00" stroke="#000" stroke-width="4.30" stroke-linecap="round"/>
<line x1="475.25" y1="696.30" x2="475.25" y2="701.30" stroke="#000" stroke-width="4.30" stroke-linecap="round"/>
<line x1="541.90" y1="1186.00" x2="541.90" y2="1176.00" stroke="#000" stroke-width="4.30" stroke-linecap="round"/>
<line x1="541.90" y1="696.30" x2="541.90" y2="706.30" stroke="#000" stroke-width="4.30" stroke-linecap="round"/>
<line x1="608.55" y1="1186.00" x2="608.55" y2="1181.00" stroke="#000" stroke-width="4.30" stroke-linecap="round"/>
<line x1="608.55" y1="696.30" x2="608.55" y2="701.30" stroke="#000" stroke-width="4.30" stroke-linecap="round"/>
<line x1="675.20" y1="1186.00" x2="675.20" y2="1176.00" stroke="#000" stroke-width="4.30" stroke-linecap="round"/>
<line x1="675.20" y1="696.30" x2="675.20" y2="706.30" stroke="#000" stroke-width="4.30" stroke-linecap="round"/>
<line x1="741.85" y1="1186.00" x2="741.85" y2="1181.00" stroke="#000" stroke-width="4.30" stroke-linecap="round"/>
<line x1="741.85" y1="696.30" x2="741.85" y2="701.30" stroke="#000" stroke-width="4.30" stroke-linecap="round"/>
<line x1="142.00" y1="1128.39" x2="147.00" y2="1128.39" stroke="#000" stroke-width="4.30" stroke-linecap="round"/>
<line x1="142.00" y1="1070.78" x2="152.00" y2="1070.78" stroke="#000" stroke-width="4.30" stroke-linecap="round"/>
<line x1="142.00" y1="1013.16" x2="147.00" y2="1013.16" stroke="#000" stroke-width="4.30" stroke-linecap="round"/>
<line x1="142.00" y1="955.55" x2="152.00" y2="955.55" stroke="#000" stroke-width="4.30" stroke-linecap="round"/>
<line x1="142.00" y1="897.94" x2="147.00" y2="897.94" stroke="#000" stroke-width="4.30" stroke-linecap="round"/>
<line x1="142.00" y1="840.33" x2="152.00" y2="840.33" stroke="#000" stroke-width="4.30" stroke-linecap="round"/>
<line x1="142.00" y1="782.72" x2="147.00" y2="782.72" stroke="#000" stroke-width="4.30" stroke-linecap="round"/>
<line x1="142.00" y1="725.11" x2="152.00" y2="725.11" stroke="#000" stroke-width="4.30" stroke-linecap="round"/>
<line x1="808.50" y1="1116.04" x2="804.50" y2="1116.04" stroke="#13E9EF" stroke-width="3.50" stroke-linecap="butt"/>
<line x1="808.50" y1="1046.09" x2="798.50" y2="1046.09" stroke="#13E9EF" stroke-width="3.50" stroke-linecap="butt"/>
<line x1="808.50" y1="976.13" x2="804.50" y2="976.13" stroke="#13E9EF" stroke-width="3.50" stroke-linecap="butt"/>
<line x1="808.50" y1="906.17" x2="798.50" y2="906.17" stroke="#13E9EF" stroke-width="3.50" stroke-linecap="butt"/>
<line x1="808.50" y1="836.21" x2="804.50" y2="836.21" stroke="#13E9EF" stroke-width="3.50" stroke-linecap="butt"/>
<line x1="808.50" y1="766.26" x2="798.50" y2="766.26" stroke="#13E9EF" stroke-width="3.50" stroke-linecap="butt"/>
<ellipse cx="410.4" cy="1012.3" rx="17.7" ry="36.6" fill="none" stroke="#13E9EF" stroke-width="5.0"/>
<path d="M413 974.2 L455 974.2" stroke="#13E9EF" stroke-width="3.4" fill="none"/>
<path d="M468.7 974.2 L448.2 968.4 L448.2 980.2 Z" fill="#13E9EF"/>
<ellipse cx="698.8" cy="1031.7" rx="18.0" ry="36.6" fill="none" stroke="#000" stroke-width="5.4"/>
<path d="M699 1066.4 L665 1066.4" stroke="#000" stroke-width="3.2" fill="none"/>
<path d="M653 1066.4 L673.3 1060.6 L673.3 1072.2 Z" fill="#000"/>
<line x1="164.50" y1="811.50" x2="231.50" y2="811.50" stroke="#F00A0A" stroke-width="6.00" stroke-linecap="round"/>
<line x1="164.50" y1="853.20" x2="231.50" y2="853.20" stroke="#000" stroke-width="6.00" stroke-linecap="round"/>
<line x1="487.50" y1="1126.40" x2="543.90" y2="1126.40" stroke="#13E9EF" stroke-width="6.00" stroke-linecap="round"/>
<text x="72.60" y="692.00" font-size="43.50" fill="#000" style="font-weight:700" textLength="54.78" lengthAdjust="spacingAndGlyphs">(b)</text>
<text x="250.70" y="688.00" font-size="38.60" fill="#000" style="font-weight:700" textLength="464.02" lengthAdjust="spacingAndGlyphs">Laser fluence = 0.22 J/cm</text>
<text x="716.80" y="675.00" font-size="21.50" fill="#000" style="font-weight:700" textLength="14.03" lengthAdjust="spacingAndGlyphs">2</text>
<text x="625.70" y="756.10" font-size="38.00" fill="#000" style="font-weight:700" textLength="149.04" lengthAdjust="spacingAndGlyphs">Ge on Si</text>
<text x="186.70" y="760.30" font-size="26.00" fill="#000" style="font-weight:700" textLength="298.27" lengthAdjust="spacingAndGlyphs">Si melting point = 1414</text>
<text x="493.60" y="748.30" font-size="18.50" fill="#000" style="font-weight:400" textLength="11.42" lengthAdjust="spacingAndGlyphs">o</text>
<text x="505.60" y="760.30" font-size="26.00" fill="#000" style="font-weight:700" textLength="15.95" lengthAdjust="spacingAndGlyphs">C</text>
<text x="468.60" y="900.20" font-size="25.50" fill="#000" style="font-weight:700" textLength="290.95" lengthAdjust="spacingAndGlyphs">Ge melting point = 937</text>
<text x="769.50" y="889.00" font-size="18.50" fill="#000" style="font-weight:400" textLength="9.52" lengthAdjust="spacingAndGlyphs">o</text>
<text x="781.50" y="900.20" font-size="25.50" fill="#000" style="font-weight:700" textLength="17.75" lengthAdjust="spacingAndGlyphs">C</text>
<text x="239.90" y="819.90" font-size="30.50" fill="#000" style="font-weight:700" textLength="99.96" lengthAdjust="spacingAndGlyphs">epi-Ge</text>
<text x="239.90" y="861.80" font-size="30.50" fill="#000" style="font-weight:700" textLength="186.88" lengthAdjust="spacingAndGlyphs">Si substrate</text>
<text x="553.00" y="1133.70" font-size="32.00" fill="#000" style="font-weight:700" textLength="224.71" lengthAdjust="spacingAndGlyphs">laser intensity</text>
<text x="112.47" y="1195.50" font-size="30.50" fill="#000" style="font-weight:700">0</text>
<text x="78.47" y="1080.28" font-size="30.50" fill="#000" style="font-weight:700">400</text>
<text x="78.47" y="965.05" font-size="30.50" fill="#000" style="font-weight:700">800</text>
<text x="61.54" y="849.83" font-size="30.50" fill="#000" style="font-weight:700">1200</text>
<text x="61.54" y="734.61" font-size="30.50" fill="#000" style="font-weight:700">1600</text>
<text x="133.54" y="1222.50" font-size="30.50" fill="#000" style="font-weight:700">0</text>
<text x="258.37" y="1222.50" font-size="30.50" fill="#000" style="font-weight:700">10</text>
<text x="391.67" y="1222.50" font-size="30.50" fill="#000" style="font-weight:700">20</text>
<text x="524.97" y="1222.50" font-size="30.50" fill="#000" style="font-weight:700">30</text>
<text x="658.27" y="1222.50" font-size="30.50" fill="#000" style="font-weight:700">40</text>
<text x="791.57" y="1222.50" font-size="30.50" fill="#000" style="font-weight:700">50</text>
<text x="820.00" y="1194.30" font-size="30.50" fill="#13E9EF" style="font-weight:700">0</text>
<text x="820.00" y="1054.39" font-size="30.50" fill="#13E9EF" style="font-weight:700">20</text>
<text x="820.00" y="914.47" font-size="30.50" fill="#13E9EF" style="font-weight:700">40</text>
<text x="820.00" y="774.56" font-size="30.50" fill="#13E9EF" style="font-weight:700">60</text>
<text x="441.30" y="1270.00" font-size="32.40" fill="#000" style="font-weight:700" textLength="144.16" lengthAdjust="spacingAndGlyphs">Time (ns)</text>
<g transform="translate(34.50 1147.85) rotate(-90)">
<text x="0.00" y="0.00" font-size="31.50" fill="#000" style="font-weight:700" textLength="326.50" lengthAdjust="spacingAndGlyphs">Surface Temperature</text>
<text x="348.10" y="1.00" font-size="31.50" fill="#000" style="font-weight:400" textLength="8.95" lengthAdjust="spacingAndGlyphs">(</text>
<text x="358.70" y="-18.50" font-size="19.00" fill="#000" style="font-weight:400" textLength="10.02" lengthAdjust="spacingAndGlyphs">o</text>
<text x="371.30" y="0.00" font-size="31.50" fill="#000" style="font-weight:700" textLength="20.66" lengthAdjust="spacingAndGlyphs">C</text>
<text x="394.10" y="1.00" font-size="31.50" fill="#000" style="font-weight:400" textLength="8.95" lengthAdjust="spacingAndGlyphs">)</text>
</g>
<g transform="translate(896 789.10) rotate(90)">
<text x="0.00" y="0.00" font-size="32.50" fill="#13E9EF" style="font-weight:700" textLength="134.56" lengthAdjust="spacingAndGlyphs">Intensity</text>
<text x="144.00" y="2.00" font-size="32.50" fill="#13E9EF" style="font-weight:700" textLength="10.94" lengthAdjust="spacingAndGlyphs">(</text>
<text x="157.30" y="0.00" font-size="32.50" fill="#13E9EF" style="font-weight:700" textLength="112.20" lengthAdjust="spacingAndGlyphs">MW/cm</text>
<text x="272.80" y="-17.00" font-size="19.50" fill="#13E9EF" style="font-weight:700" textLength="10.02" lengthAdjust="spacingAndGlyphs">2</text>
<text x="283.50" y="2.00" font-size="32.50" fill="#13E9EF" style="font-weight:700" textLength="11.13" lengthAdjust="spacingAndGlyphs">)</text>
</g>
</svg></body></html>
